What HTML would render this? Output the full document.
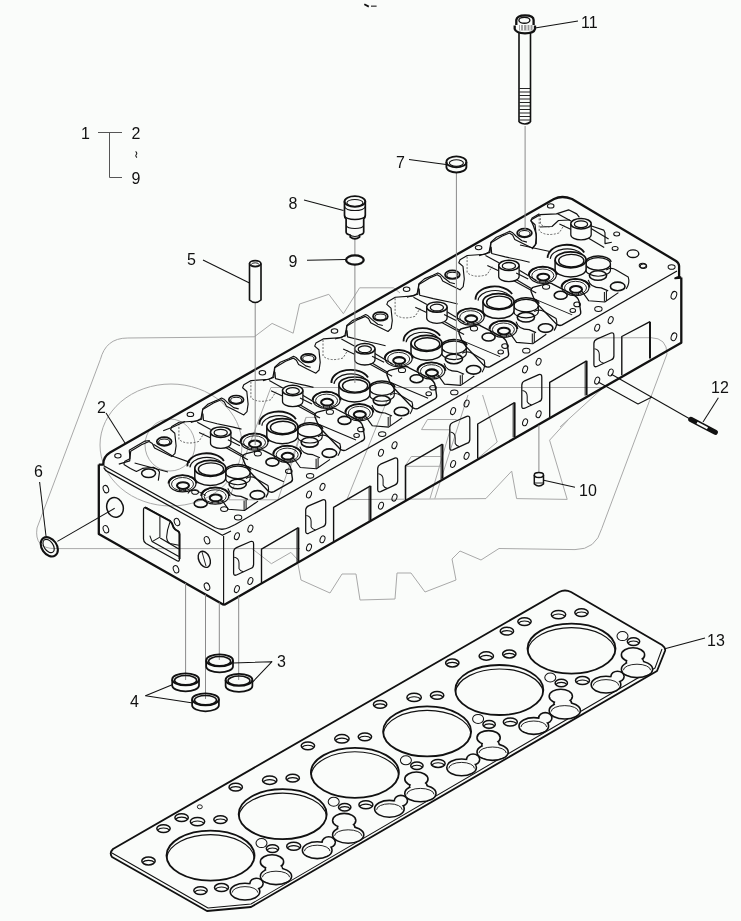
<!DOCTYPE html>
<html><head><meta charset="utf-8"><style>
html,body{margin:0;padding:0;background:#fafcfa;}
svg{display:block;font-family:"Liberation Sans",sans-serif;}
.t{will-change:transform;}
text{fill:#111;}
</style></head><body>
<svg class="t" width="741" height="921" viewBox="0 0 741 921">
<rect width="741" height="921" fill="#fafcfa"/>
<path d="M 127.8,338 L 254.3,336.8 L 272.1,323.4 L 293.2,333.2 L 299.6,304 L 328.8,294.3 L 343.4,313.7 L 359.6,287.8 L 393.6,287.8 L 400,293" stroke="#a9a9a9" stroke-width="1.0" fill="none" stroke-linejoin="round"/>
<path d="M 127.8,338 C 112,338 104,346 100.4,359.4 L 37,528 Q 34,548.6 55,548.6 L 300,548.6" stroke="#a9a9a9" stroke-width="1.0" fill="none" stroke-linejoin="round"/>
<path d="M 298,564 L 301,580 L 330,593 L 342,574 L 356,574 L 360,600 L 395,599 L 397,573 L 411,573 L 425,592 L 456,580 L 452,559 L 460,551 L 481,560 L 499,548.5 L 575,549.6 Q 596,549.6 601.7,528.7 L 667,354 Q 667,338 651,337.7 L 560,338" stroke="#a9a9a9" stroke-width="1.0" fill="none" stroke-linejoin="round"/>
<ellipse cx="171.0" cy="445.0" rx="71.0" ry="61.0" stroke="#a9a9a9" stroke-width="1.0" fill="none"/>
<ellipse cx="170.0" cy="445.0" rx="25.0" ry="26.0" stroke="#a9a9a9" stroke-width="1.0" fill="none"/>
<polyline points="270.9,387.5 602.0,387.5" stroke="#a9a9a9" stroke-width="1.0" fill="none" stroke-linejoin="round"/>
<polyline points="270.9,387.5 228.8,499.8 277.9,499.8 306.0,417.4 318.2,417.4" stroke="#a9a9a9" stroke-width="1.0" fill="none" stroke-linejoin="round"/>
<polyline points="306.0,417.4 290.2,468.2" stroke="#a9a9a9" stroke-width="1.0" fill="none" stroke-linejoin="round"/>
<polyline points="392.2,387.8 346.9,499.6 486.0,498.6" stroke="#a9a9a9" stroke-width="1.0" fill="none" stroke-linejoin="round"/>
<polyline points="421.5,429.6 427.5,419.5 456.7,419.5" stroke="#a9a9a9" stroke-width="1.0" fill="none" stroke-linejoin="round"/>
<polyline points="421.5,429.6 450.2,429.8 430.0,498.6" stroke="#a9a9a9" stroke-width="1.0" fill="none" stroke-linejoin="round"/>
<polyline points="404.9,498.6 404.9,466.3 411.3,456.5 440.5,456.5" stroke="#a9a9a9" stroke-width="1.0" fill="none" stroke-linejoin="round"/>
<polyline points="404.9,466.3 440.5,466.3" stroke="#a9a9a9" stroke-width="1.0" fill="none" stroke-linejoin="round"/>
<polyline points="485.8,498.6 511.7,471.1 516.6,498.6 567.2,499.4 549.6,440.2 568.0,420.0" stroke="#a9a9a9" stroke-width="1.0" fill="none" stroke-linejoin="round"/>
<polyline points="468.0,395.0 434.8,498.6" stroke="#a9a9a9" stroke-width="1.0" fill="none" stroke-linejoin="round"/>
<polyline points="482.6,395.0 497.2,442.0 476.0,460.0" stroke="#a9a9a9" stroke-width="1.0" fill="none" stroke-linejoin="round"/>
<polyline points="560.0,427.0 601.7,389.0" stroke="#a9a9a9" stroke-width="1.0" fill="none" stroke-linejoin="round"/>
<polyline points="271.4,563.7 290.9,552.4 298.0,560.0" stroke="#a9a9a9" stroke-width="1.0" fill="none" stroke-linejoin="round"/>
<polyline points="252.0,548.6 271.4,563.7" stroke="#a9a9a9" stroke-width="1.0" fill="none" stroke-linejoin="round"/>
<path d="M 98.8,464.6 L 103.3,464.6 Q 103,457 110,452.5 L 554,199 Q 562,195 572,199 L 676,261 Q 679,263 679.1,266 L 679.1,276.7 L 675.4,278.2 L 681.3,277.5" stroke="#111" stroke-width="2.3" fill="none" stroke-linejoin="round"/>
<polyline points="98.8,464.6 98.8,534.0 224.0,605.0" stroke="#111" stroke-width="2.3" fill="none" stroke-linejoin="round"/>
<polyline points="224.0,605.0 681.3,342.8 681.3,277.5" stroke="#111" stroke-width="2.3" fill="none" stroke-linejoin="round"/>
<polyline points="223.6,536.0 223.6,605.0" stroke="#111" stroke-width="1.15" fill="none" stroke-linejoin="round"/>
<path d="M 103.7,465.8 L 215,527.5 Q 222,531 229,527.5 L 235.3,524.5 L 677,271" stroke="#111" stroke-width="1.26" fill="none" stroke-linejoin="round"/>
<path d="M 103.7,467.4 Q 105,470.5 108.1,471.9 L 222.4,535.3 L 231,531" stroke="#111" stroke-width="1.26" fill="none" stroke-linejoin="round"/>
<ellipse cx="115.0" cy="507.4" rx="8.2" ry="10.0" stroke="#111" stroke-width="1.49" fill="none" transform="rotate(-15 115.0 507.4)"/>
<ellipse cx="105.9" cy="489.1" rx="2.6" ry="3.8" stroke="#111" stroke-width="1.03" fill="none" transform="rotate(-20 105.9 489.1)"/>
<ellipse cx="105.9" cy="529.2" rx="2.6" ry="3.8" stroke="#111" stroke-width="1.03" fill="none" transform="rotate(-20 105.9 529.2)"/>
<ellipse cx="177.0" cy="522.0" rx="2.6" ry="3.8" stroke="#111" stroke-width="1.03" fill="none" transform="rotate(-20 177.0 522.0)"/>
<ellipse cx="207.0" cy="540.2" rx="2.6" ry="3.8" stroke="#111" stroke-width="1.03" fill="none" transform="rotate(-20 207.0 540.2)"/>
<ellipse cx="176.0" cy="569.3" rx="2.6" ry="3.8" stroke="#111" stroke-width="1.03" fill="none" transform="rotate(-20 176.0 569.3)"/>
<ellipse cx="207.0" cy="586.6" rx="2.6" ry="3.8" stroke="#111" stroke-width="1.03" fill="none" transform="rotate(-20 207.0 586.6)"/>
<ellipse cx="204.3" cy="559.3" rx="5.5" ry="8.5" stroke="#111" stroke-width="1.38" fill="none" transform="rotate(-25 204.3 559.3)"/>
<polyline points="202.0,552.0 206.0,566.0" stroke="#111" stroke-width="0.92" fill="none" stroke-linejoin="round"/>
<path d="M 143.5,510 Q 143.5,507 146,507.6 L 169.9,520.8 Q 172,522.5 173.6,527.5 Q 175,530 178,531.2 Q 179.5,532 179.5,534 L 179.5,559 Q 179.5,561.5 177.5,561 L 146,543.5 Q 143.5,542 143.5,539 Z" stroke="#111" stroke-width="1.26" fill="none" stroke-linejoin="round"/>
<path d="M 145,507.4 L 169.9,520.8 Q 172,522.5 173.6,527.5 Q 175,530 178,531.2 Q 179.5,532 179.5,534 L 179.5,559" stroke="#111" stroke-width="1.95" fill="none" stroke-linejoin="round"/>
<polyline points="159.9,516.3 159.9,537.1 152.1,541.6 149.8,535.6" stroke="#111" stroke-width="1.03" fill="none" stroke-linejoin="round"/>
<polyline points="152.1,541.6 178.8,556.4" stroke="#111" stroke-width="1.15" fill="none" stroke-linejoin="round"/>
<polyline points="160.2,537.9 178.8,549.0" stroke="#111" stroke-width="1.15" fill="none" stroke-linejoin="round"/>
<path d="M 169.9,522.3 Q 167,530 166.6,537.1 Q 167,542 170,543.5 L 178.8,545.3" stroke="#111" stroke-width="1.03" fill="none" stroke-linejoin="round"/>
<g transform="translate(0.0 -0.0)">
<path d="M 233.6,552 Q 233.6,549 236.5,547.6 L 250.6,541.5 Q 253.6,540.5 253.6,544 L 253.6,564.5 Q 253.6,567.5 250.6,568.5 L 236.5,575 Q 233.6,576 233.6,573 Z" stroke="#111" stroke-width="1.26" fill="none" stroke-linejoin="round"/>
<path d="M 234.2,557.2 Q 239,558 239,563 L 239,568.6 Q 240,571 243.4,571.8" stroke="#111" stroke-width="1.03" fill="none" stroke-linejoin="round"/>
<ellipse cx="250.4" cy="528.6" rx="2.3" ry="3.6" stroke="#111" stroke-width="1.03" fill="none" transform="rotate(20 250.4 528.6)"/>
<ellipse cx="236.9" cy="536.2" rx="2.3" ry="3.6" stroke="#111" stroke-width="1.03" fill="none" transform="rotate(20 236.9 536.2)"/>
<ellipse cx="250.4" cy="581.0" rx="2.3" ry="3.6" stroke="#111" stroke-width="1.03" fill="none" transform="rotate(20 250.4 581.0)"/>
<ellipse cx="236.9" cy="589.1" rx="2.3" ry="3.6" stroke="#111" stroke-width="1.03" fill="none" transform="rotate(20 236.9 589.1)"/>
<polyline points="261.5,583.7 261.5,549.1 298.4,527.6" stroke="#111" stroke-width="1.38" fill="none" stroke-linejoin="round"/>
<polyline points="298.4,527.6 298.4,562.1" stroke="#111" stroke-width="1.95" fill="none" stroke-linejoin="round"/>
<polyline points="296.9,529.0 296.9,562.5" stroke="#111" stroke-width="0.8" fill="none" stroke-linejoin="round"/>
</g>
<g transform="translate(72.1 -41.7)">
<path d="M 233.6,552 Q 233.6,549 236.5,547.6 L 250.6,541.5 Q 253.6,540.5 253.6,544 L 253.6,564.5 Q 253.6,567.5 250.6,568.5 L 236.5,575 Q 233.6,576 233.6,573 Z" stroke="#111" stroke-width="1.26" fill="none" stroke-linejoin="round"/>
<path d="M 234.2,557.2 Q 239,558 239,563 L 239,568.6 Q 240,571 243.4,571.8" stroke="#111" stroke-width="1.03" fill="none" stroke-linejoin="round"/>
<ellipse cx="250.4" cy="528.6" rx="2.3" ry="3.6" stroke="#111" stroke-width="1.03" fill="none" transform="rotate(20 250.4 528.6)"/>
<ellipse cx="236.9" cy="536.2" rx="2.3" ry="3.6" stroke="#111" stroke-width="1.03" fill="none" transform="rotate(20 236.9 536.2)"/>
<ellipse cx="250.4" cy="581.0" rx="2.3" ry="3.6" stroke="#111" stroke-width="1.03" fill="none" transform="rotate(20 250.4 581.0)"/>
<ellipse cx="236.9" cy="589.1" rx="2.3" ry="3.6" stroke="#111" stroke-width="1.03" fill="none" transform="rotate(20 236.9 589.1)"/>
<polyline points="261.5,583.7 261.5,549.1 298.4,527.6" stroke="#111" stroke-width="1.38" fill="none" stroke-linejoin="round"/>
<polyline points="298.4,527.6 298.4,562.1" stroke="#111" stroke-width="1.95" fill="none" stroke-linejoin="round"/>
<polyline points="296.9,529.0 296.9,562.5" stroke="#111" stroke-width="0.8" fill="none" stroke-linejoin="round"/>
</g>
<g transform="translate(144.1 -83.4)">
<path d="M 233.6,552 Q 233.6,549 236.5,547.6 L 250.6,541.5 Q 253.6,540.5 253.6,544 L 253.6,564.5 Q 253.6,567.5 250.6,568.5 L 236.5,575 Q 233.6,576 233.6,573 Z" stroke="#111" stroke-width="1.26" fill="none" stroke-linejoin="round"/>
<path d="M 234.2,557.2 Q 239,558 239,563 L 239,568.6 Q 240,571 243.4,571.8" stroke="#111" stroke-width="1.03" fill="none" stroke-linejoin="round"/>
<ellipse cx="250.4" cy="528.6" rx="2.3" ry="3.6" stroke="#111" stroke-width="1.03" fill="none" transform="rotate(20 250.4 528.6)"/>
<ellipse cx="236.9" cy="536.2" rx="2.3" ry="3.6" stroke="#111" stroke-width="1.03" fill="none" transform="rotate(20 236.9 536.2)"/>
<ellipse cx="250.4" cy="581.0" rx="2.3" ry="3.6" stroke="#111" stroke-width="1.03" fill="none" transform="rotate(20 250.4 581.0)"/>
<ellipse cx="236.9" cy="589.1" rx="2.3" ry="3.6" stroke="#111" stroke-width="1.03" fill="none" transform="rotate(20 236.9 589.1)"/>
<polyline points="261.5,583.7 261.5,549.1 298.4,527.6" stroke="#111" stroke-width="1.38" fill="none" stroke-linejoin="round"/>
<polyline points="298.4,527.6 298.4,562.1" stroke="#111" stroke-width="1.95" fill="none" stroke-linejoin="round"/>
<polyline points="296.9,529.0 296.9,562.5" stroke="#111" stroke-width="0.8" fill="none" stroke-linejoin="round"/>
</g>
<g transform="translate(216.2 -125.1)">
<path d="M 233.6,552 Q 233.6,549 236.5,547.6 L 250.6,541.5 Q 253.6,540.5 253.6,544 L 253.6,564.5 Q 253.6,567.5 250.6,568.5 L 236.5,575 Q 233.6,576 233.6,573 Z" stroke="#111" stroke-width="1.26" fill="none" stroke-linejoin="round"/>
<path d="M 234.2,557.2 Q 239,558 239,563 L 239,568.6 Q 240,571 243.4,571.8" stroke="#111" stroke-width="1.03" fill="none" stroke-linejoin="round"/>
<ellipse cx="250.4" cy="528.6" rx="2.3" ry="3.6" stroke="#111" stroke-width="1.03" fill="none" transform="rotate(20 250.4 528.6)"/>
<ellipse cx="236.9" cy="536.2" rx="2.3" ry="3.6" stroke="#111" stroke-width="1.03" fill="none" transform="rotate(20 236.9 536.2)"/>
<ellipse cx="250.4" cy="581.0" rx="2.3" ry="3.6" stroke="#111" stroke-width="1.03" fill="none" transform="rotate(20 250.4 581.0)"/>
<ellipse cx="236.9" cy="589.1" rx="2.3" ry="3.6" stroke="#111" stroke-width="1.03" fill="none" transform="rotate(20 236.9 589.1)"/>
<polyline points="261.5,583.7 261.5,549.1 298.4,527.6" stroke="#111" stroke-width="1.38" fill="none" stroke-linejoin="round"/>
<polyline points="298.4,527.6 298.4,562.1" stroke="#111" stroke-width="1.95" fill="none" stroke-linejoin="round"/>
<polyline points="296.9,529.0 296.9,562.5" stroke="#111" stroke-width="0.8" fill="none" stroke-linejoin="round"/>
</g>
<g transform="translate(288.2 -166.8)">
<path d="M 233.6,552 Q 233.6,549 236.5,547.6 L 250.6,541.5 Q 253.6,540.5 253.6,544 L 253.6,564.5 Q 253.6,567.5 250.6,568.5 L 236.5,575 Q 233.6,576 233.6,573 Z" stroke="#111" stroke-width="1.26" fill="none" stroke-linejoin="round"/>
<path d="M 234.2,557.2 Q 239,558 239,563 L 239,568.6 Q 240,571 243.4,571.8" stroke="#111" stroke-width="1.03" fill="none" stroke-linejoin="round"/>
<ellipse cx="250.4" cy="528.6" rx="2.3" ry="3.6" stroke="#111" stroke-width="1.03" fill="none" transform="rotate(20 250.4 528.6)"/>
<ellipse cx="236.9" cy="536.2" rx="2.3" ry="3.6" stroke="#111" stroke-width="1.03" fill="none" transform="rotate(20 236.9 536.2)"/>
<ellipse cx="250.4" cy="581.0" rx="2.3" ry="3.6" stroke="#111" stroke-width="1.03" fill="none" transform="rotate(20 250.4 581.0)"/>
<ellipse cx="236.9" cy="589.1" rx="2.3" ry="3.6" stroke="#111" stroke-width="1.03" fill="none" transform="rotate(20 236.9 589.1)"/>
<polyline points="261.5,583.7 261.5,549.1 298.4,527.6" stroke="#111" stroke-width="1.38" fill="none" stroke-linejoin="round"/>
<polyline points="298.4,527.6 298.4,562.1" stroke="#111" stroke-width="1.95" fill="none" stroke-linejoin="round"/>
<polyline points="296.9,529.0 296.9,562.5" stroke="#111" stroke-width="0.8" fill="none" stroke-linejoin="round"/>
</g>
<g transform="translate(360.3 -208.5)">
<path d="M 233.6,552 Q 233.6,549 236.5,547.6 L 250.6,541.5 Q 253.6,540.5 253.6,544 L 253.6,564.5 Q 253.6,567.5 250.6,568.5 L 236.5,575 Q 233.6,576 233.6,573 Z" stroke="#111" stroke-width="1.26" fill="none" stroke-linejoin="round"/>
<path d="M 234.2,557.2 Q 239,558 239,563 L 239,568.6 Q 240,571 243.4,571.8" stroke="#111" stroke-width="1.03" fill="none" stroke-linejoin="round"/>
<ellipse cx="250.4" cy="528.6" rx="2.3" ry="3.6" stroke="#111" stroke-width="1.03" fill="none" transform="rotate(20 250.4 528.6)"/>
<ellipse cx="236.9" cy="536.2" rx="2.3" ry="3.6" stroke="#111" stroke-width="1.03" fill="none" transform="rotate(20 236.9 536.2)"/>
<ellipse cx="250.4" cy="581.0" rx="2.3" ry="3.6" stroke="#111" stroke-width="1.03" fill="none" transform="rotate(20 250.4 581.0)"/>
<ellipse cx="236.9" cy="589.1" rx="2.3" ry="3.6" stroke="#111" stroke-width="1.03" fill="none" transform="rotate(20 236.9 589.1)"/>
<polyline points="261.5,583.7 261.5,545.0 289.7,530.2" stroke="#111" stroke-width="1.38" fill="none" stroke-linejoin="round"/>
<polyline points="289.7,530.2 289.7,567.0" stroke="#111" stroke-width="1.95" fill="none" stroke-linejoin="round"/>
</g>
<g transform="translate(-144.1 83.4)">
<ellipse cx="334.5" cy="331.0" rx="3.3" ry="2.2" stroke="#111" stroke-width="1.03" fill="none"/>
<polyline points="262.9,380.7 273.8,377.5 274.8,367.8 285.6,361.3 293.2,358.1 296.4,360.2 298.6,364.5 307.2,368.9 315.9,373.2 319.1,370.0 320.2,362.4 318.9,349.8 314.7,346.1 315.9,343.1 323.2,338.9 341.4,337.6 345.0,335.2 346.2,329.2 346.8,325.5 352.3,320.6 360.8,317.0 365.7,314.6 368.1,315.8 371.8,319.4 377.8,324.2 382.8,325.5" stroke="#111" stroke-width="1.15" fill="none" stroke-linejoin="round"/>
<path d="M 323,340 L 323,356 Q 330,362 343,358 L 348,350" stroke="#444" stroke-width="0.8" fill="none" stroke-linejoin="round" stroke-dasharray="2 1.5"/>
<polyline points="347.0,330.2 347.6,336.9 361.2,340.3 377.4,343.7 385.6,345.7" stroke="#111" stroke-width="1.15" fill="none" stroke-linejoin="round"/>
<polyline points="341.4,338.9 354.8,346.2" stroke="#111" stroke-width="1.15" fill="none" stroke-linejoin="round"/>
<polyline points="343.2,349.0 356.1,355.0" stroke="#111" stroke-width="1.15" fill="none" stroke-linejoin="round"/>
<polyline points="374.0,353.0 392.4,364.0" stroke="#111" stroke-width="1.15" fill="none" stroke-linejoin="round"/>
<polyline points="372.0,363.0 388.0,372.5" stroke="#111" stroke-width="1.15" fill="none" stroke-linejoin="round"/>
<ellipse cx="308.3" cy="358.1" rx="7.4" ry="4.3" stroke="#111" stroke-width="1.72" fill="none"/>
<ellipse cx="308.3" cy="358.6" rx="5.6" ry="3.0" stroke="#111" stroke-width="1.03" fill="none"/>
<path d="M 354.6,348.8 L 354.6,359.8 A 10.2 5.2 0 0 0 375.0,359.8 L 375.0,348.8" stroke="#111" stroke-width="1.27" fill="#fafcfa" stroke-linejoin="round"/>
<ellipse cx="364.8" cy="348.8" rx="10.2" ry="5.2" stroke="#111" stroke-width="1.49" fill="#fafcfa"/>
<ellipse cx="364.8" cy="349.3" rx="6.6" ry="3.4" stroke="#111" stroke-width="1.26" fill="none"/>
<path d="M 369.2,387.5 A 13 7 0 0 1 395,387" stroke="#111" stroke-width="1.49" fill="none" stroke-linejoin="round"/>
<path d="M 369.7,389.0 L 369.7,395.0 A 12.3 6.3 0 0 0 394.3,395.0 L 394.3,389.0" stroke="#111" stroke-width="1.08" fill="#fafcfa" stroke-linejoin="round"/>
<ellipse cx="382.0" cy="389.0" rx="12.3" ry="6.3" stroke="#111" stroke-width="1.26" fill="#fafcfa"/>
<ellipse cx="381.8" cy="400.6" rx="8.6" ry="4.8" stroke="#111" stroke-width="1.61" fill="none"/>
<path d="M 312.6,400.2 A 14 8.5 0 0 1 340.6,400.2" stroke="#111" stroke-width="1.84" fill="none" stroke-linejoin="round"/>
<ellipse cx="326.6" cy="400.2" rx="13.5" ry="8.3" stroke="#111" stroke-width="1.15" fill="none"/>
<ellipse cx="326.6" cy="400.7" rx="11.0" ry="6.6" stroke="#111" stroke-width="0.92" fill="none"/>
<ellipse cx="327.1" cy="402.2" rx="6.0" ry="3.4" stroke="#111" stroke-width="2.07" fill="none"/>
<polyline points="323.6,405.2 323.6,408.2" stroke="#111" stroke-width="0.92" fill="none" stroke-linejoin="round"/>
<polyline points="329.6,405.2 329.6,408.2" stroke="#111" stroke-width="0.92" fill="none" stroke-linejoin="round"/>
<path d="M 345.3,412.5 A 14 8.5 0 0 1 373.3,412.5" stroke="#111" stroke-width="1.84" fill="none" stroke-linejoin="round"/>
<ellipse cx="359.3" cy="412.5" rx="13.5" ry="8.3" stroke="#111" stroke-width="1.15" fill="none"/>
<ellipse cx="359.3" cy="413.0" rx="11.0" ry="6.6" stroke="#111" stroke-width="0.92" fill="none"/>
<ellipse cx="359.8" cy="414.5" rx="6.0" ry="3.4" stroke="#111" stroke-width="2.07" fill="none"/>
<polyline points="356.3,417.5 356.3,420.5" stroke="#111" stroke-width="0.92" fill="none" stroke-linejoin="round"/>
<polyline points="362.3,417.5 362.3,420.5" stroke="#111" stroke-width="0.92" fill="none" stroke-linejoin="round"/>
<path d="M 331.5,383 A 19 12.5 0 0 1 368,377.5" stroke="#111" stroke-width="1.84" fill="none" stroke-linejoin="round"/>
<path d="M 334,384 A 17 10.5 0 0 1 366,379.5" stroke="#111" stroke-width="1.15" fill="none" stroke-linejoin="round"/>
<path d="M 338.9,385.0 L 338.9,394.0 A 15.5 8.0 0 0 0 369.9,394.0 L 369.9,385.0" stroke="#111" stroke-width="1.47" fill="#fafcfa" stroke-linejoin="round"/>
<ellipse cx="354.4" cy="385.0" rx="15.5" ry="8.0" stroke="#111" stroke-width="1.72" fill="#fafcfa"/>
<ellipse cx="355.1" cy="385.8" rx="12.6" ry="6.3" stroke="#111" stroke-width="1.38" fill="none"/>
<ellipse cx="339.2" cy="408.6" rx="3.4" ry="2.3" stroke="#111" stroke-width="1.03" fill="none"/>
<ellipse cx="344.8" cy="420.0" rx="6.5" ry="4.0" stroke="#111" stroke-width="1.61" fill="none"/>
<ellipse cx="368.3" cy="425.7" rx="3.6" ry="2.4" stroke="#111" stroke-width="1.03" fill="none"/>
<path d="M 332,410 Q 334,406 340,407 L 350,412" stroke="#111" stroke-width="1.03" fill="none" stroke-linejoin="round"/>
<ellipse cx="401.5" cy="411.5" rx="7.3" ry="4.3" stroke="#111" stroke-width="1.61" fill="none"/>
<path d="M 372,405 Q 374,413 385,413 L 392,416" stroke="#111" stroke-width="1.15" fill="none" stroke-linejoin="round"/>
<path d="M 390,395 Q 395,392 400,395 L 412,402 Q 414,408 410,414" stroke="#111" stroke-width="1.15" fill="none" stroke-linejoin="round"/>
<path d="M 365.6,416.3 L 372.4,425.8 L 388.6,427.1 L 402.2,417.7" stroke="#111" stroke-width="1.15" fill="none" stroke-linejoin="round"/>
<polyline points="388.2,417.0 388.2,426.5" stroke="#111" stroke-width="1.03" fill="none" stroke-linejoin="round"/>
<polyline points="390.2,416.0 390.2,426.0" stroke="#111" stroke-width="1.03" fill="none" stroke-linejoin="round"/>
<ellipse cx="382.2" cy="434.1" rx="3.7" ry="2.4" stroke="#111" stroke-width="1.03" fill="none"/>
</g>
<g transform="translate(-72.1 41.7)">
<ellipse cx="334.5" cy="331.0" rx="3.3" ry="2.2" stroke="#111" stroke-width="1.03" fill="none"/>
<polyline points="262.9,380.7 273.8,377.5 274.8,367.8 285.6,361.3 293.2,358.1 296.4,360.2 298.6,364.5 307.2,368.9 315.9,373.2 319.1,370.0 320.2,362.4 318.9,349.8 314.7,346.1 315.9,343.1 323.2,338.9 341.4,337.6 345.0,335.2 346.2,329.2 346.8,325.5 352.3,320.6 360.8,317.0 365.7,314.6 368.1,315.8 371.8,319.4 377.8,324.2 382.8,325.5" stroke="#111" stroke-width="1.15" fill="none" stroke-linejoin="round"/>
<path d="M 323,340 L 323,356 Q 330,362 343,358 L 348,350" stroke="#444" stroke-width="0.8" fill="none" stroke-linejoin="round" stroke-dasharray="2 1.5"/>
<polyline points="347.0,330.2 347.6,336.9 361.2,340.3 377.4,343.7 385.6,345.7" stroke="#111" stroke-width="1.15" fill="none" stroke-linejoin="round"/>
<polyline points="341.4,338.9 354.8,346.2" stroke="#111" stroke-width="1.15" fill="none" stroke-linejoin="round"/>
<polyline points="343.2,349.0 356.1,355.0" stroke="#111" stroke-width="1.15" fill="none" stroke-linejoin="round"/>
<polyline points="374.0,353.0 392.4,364.0" stroke="#111" stroke-width="1.15" fill="none" stroke-linejoin="round"/>
<polyline points="372.0,363.0 388.0,372.5" stroke="#111" stroke-width="1.15" fill="none" stroke-linejoin="round"/>
<polyline points="297.6,405.8 320.0,418.0" stroke="#111" stroke-width="1.15" fill="none" stroke-linejoin="round"/>
<polyline points="300.0,398.0 312.0,404.0" stroke="#111" stroke-width="1.15" fill="none" stroke-linejoin="round"/>
<ellipse cx="308.3" cy="358.1" rx="7.4" ry="4.3" stroke="#111" stroke-width="1.72" fill="none"/>
<ellipse cx="308.3" cy="358.6" rx="5.6" ry="3.0" stroke="#111" stroke-width="1.03" fill="none"/>
<path d="M 354.6,348.8 L 354.6,359.8 A 10.2 5.2 0 0 0 375.0,359.8 L 375.0,348.8" stroke="#111" stroke-width="1.27" fill="#fafcfa" stroke-linejoin="round"/>
<ellipse cx="364.8" cy="348.8" rx="10.2" ry="5.2" stroke="#111" stroke-width="1.49" fill="#fafcfa"/>
<ellipse cx="364.8" cy="349.3" rx="6.6" ry="3.4" stroke="#111" stroke-width="1.26" fill="none"/>
<path d="M 369.2,387.5 A 13 7 0 0 1 395,387" stroke="#111" stroke-width="1.49" fill="none" stroke-linejoin="round"/>
<path d="M 369.7,389.0 L 369.7,395.0 A 12.3 6.3 0 0 0 394.3,395.0 L 394.3,389.0" stroke="#111" stroke-width="1.08" fill="#fafcfa" stroke-linejoin="round"/>
<ellipse cx="382.0" cy="389.0" rx="12.3" ry="6.3" stroke="#111" stroke-width="1.26" fill="#fafcfa"/>
<ellipse cx="381.8" cy="400.6" rx="8.6" ry="4.8" stroke="#111" stroke-width="1.61" fill="none"/>
<path d="M 312.6,400.2 A 14 8.5 0 0 1 340.6,400.2" stroke="#111" stroke-width="1.84" fill="none" stroke-linejoin="round"/>
<ellipse cx="326.6" cy="400.2" rx="13.5" ry="8.3" stroke="#111" stroke-width="1.15" fill="none"/>
<ellipse cx="326.6" cy="400.7" rx="11.0" ry="6.6" stroke="#111" stroke-width="0.92" fill="none"/>
<ellipse cx="327.1" cy="402.2" rx="6.0" ry="3.4" stroke="#111" stroke-width="2.07" fill="none"/>
<polyline points="323.6,405.2 323.6,408.2" stroke="#111" stroke-width="0.92" fill="none" stroke-linejoin="round"/>
<polyline points="329.6,405.2 329.6,408.2" stroke="#111" stroke-width="0.92" fill="none" stroke-linejoin="round"/>
<path d="M 345.3,412.5 A 14 8.5 0 0 1 373.3,412.5" stroke="#111" stroke-width="1.84" fill="none" stroke-linejoin="round"/>
<ellipse cx="359.3" cy="412.5" rx="13.5" ry="8.3" stroke="#111" stroke-width="1.15" fill="none"/>
<ellipse cx="359.3" cy="413.0" rx="11.0" ry="6.6" stroke="#111" stroke-width="0.92" fill="none"/>
<ellipse cx="359.8" cy="414.5" rx="6.0" ry="3.4" stroke="#111" stroke-width="2.07" fill="none"/>
<polyline points="356.3,417.5 356.3,420.5" stroke="#111" stroke-width="0.92" fill="none" stroke-linejoin="round"/>
<polyline points="362.3,417.5 362.3,420.5" stroke="#111" stroke-width="0.92" fill="none" stroke-linejoin="round"/>
<path d="M 331.5,383 A 19 12.5 0 0 1 368,377.5" stroke="#111" stroke-width="1.84" fill="none" stroke-linejoin="round"/>
<path d="M 334,384 A 17 10.5 0 0 1 366,379.5" stroke="#111" stroke-width="1.15" fill="none" stroke-linejoin="round"/>
<path d="M 338.9,385.0 L 338.9,394.0 A 15.5 8.0 0 0 0 369.9,394.0 L 369.9,385.0" stroke="#111" stroke-width="1.47" fill="#fafcfa" stroke-linejoin="round"/>
<ellipse cx="354.4" cy="385.0" rx="15.5" ry="8.0" stroke="#111" stroke-width="1.72" fill="#fafcfa"/>
<ellipse cx="355.1" cy="385.8" rx="12.6" ry="6.3" stroke="#111" stroke-width="1.38" fill="none"/>
<path d="M 315,417 Q 314,413 318.4,411.9 L 333,408.2 Q 335,408 337,409.5 L 356,419.2 Q 362,422 363,427 L 364.5,437 Q 365,440 361,441.5 L 346,450 Q 343,451.5 340,449 L 322,430 Q 317,424 315,417 Z" stroke="#111" stroke-width="1.38" fill="none" stroke-linejoin="round"/>
<polyline points="318.0,424.0 356.0,440.0" stroke="#111" stroke-width="1.03" fill="none" stroke-linejoin="round"/>
<ellipse cx="329.9" cy="411.9" rx="3.6" ry="2.4" stroke="#111" stroke-width="1.03" fill="none"/>
<ellipse cx="344.5" cy="420.4" rx="6.5" ry="4.0" stroke="#111" stroke-width="1.61" fill="none"/>
<ellipse cx="360.9" cy="429.5" rx="3.3" ry="2.3" stroke="#111" stroke-width="1.03" fill="none"/>
<ellipse cx="401.5" cy="411.5" rx="7.3" ry="4.3" stroke="#111" stroke-width="1.61" fill="none"/>
<path d="M 372,405 Q 374,413 385,413 L 392,416" stroke="#111" stroke-width="1.15" fill="none" stroke-linejoin="round"/>
<path d="M 390,395 Q 395,392 400,395 L 412,402 Q 414,408 410,414" stroke="#111" stroke-width="1.15" fill="none" stroke-linejoin="round"/>
<path d="M 365.6,416.3 L 372.4,425.8 L 388.6,427.1 L 402.2,417.7" stroke="#111" stroke-width="1.15" fill="none" stroke-linejoin="round"/>
<polyline points="388.2,417.0 388.2,426.5" stroke="#111" stroke-width="1.03" fill="none" stroke-linejoin="round"/>
<polyline points="390.2,416.0 390.2,426.0" stroke="#111" stroke-width="1.03" fill="none" stroke-linejoin="round"/>
<ellipse cx="382.2" cy="434.1" rx="3.7" ry="2.4" stroke="#111" stroke-width="1.03" fill="none"/>
</g>
<g transform="translate(0.0 -0.0)">
<ellipse cx="334.5" cy="331.0" rx="3.3" ry="2.2" stroke="#111" stroke-width="1.03" fill="none"/>
<polyline points="262.9,380.7 273.8,377.5 274.8,367.8 285.6,361.3 293.2,358.1 296.4,360.2 298.6,364.5 307.2,368.9 315.9,373.2 319.1,370.0 320.2,362.4 318.9,349.8 314.7,346.1 315.9,343.1 323.2,338.9 341.4,337.6 345.0,335.2 346.2,329.2 346.8,325.5 352.3,320.6 360.8,317.0 365.7,314.6 368.1,315.8 371.8,319.4 377.8,324.2 382.8,325.5" stroke="#111" stroke-width="1.15" fill="none" stroke-linejoin="round"/>
<path d="M 323,340 L 323,356 Q 330,362 343,358 L 348,350" stroke="#444" stroke-width="0.8" fill="none" stroke-linejoin="round" stroke-dasharray="2 1.5"/>
<polyline points="347.0,330.2 347.6,336.9 361.2,340.3 377.4,343.7 385.6,345.7" stroke="#111" stroke-width="1.15" fill="none" stroke-linejoin="round"/>
<polyline points="341.4,338.9 354.8,346.2" stroke="#111" stroke-width="1.15" fill="none" stroke-linejoin="round"/>
<polyline points="343.2,349.0 356.1,355.0" stroke="#111" stroke-width="1.15" fill="none" stroke-linejoin="round"/>
<polyline points="374.0,353.0 392.4,364.0" stroke="#111" stroke-width="1.15" fill="none" stroke-linejoin="round"/>
<polyline points="372.0,363.0 388.0,372.5" stroke="#111" stroke-width="1.15" fill="none" stroke-linejoin="round"/>
<polyline points="297.6,405.8 320.0,418.0" stroke="#111" stroke-width="1.15" fill="none" stroke-linejoin="round"/>
<polyline points="300.0,398.0 312.0,404.0" stroke="#111" stroke-width="1.15" fill="none" stroke-linejoin="round"/>
<ellipse cx="308.3" cy="358.1" rx="7.4" ry="4.3" stroke="#111" stroke-width="1.72" fill="none"/>
<ellipse cx="308.3" cy="358.6" rx="5.6" ry="3.0" stroke="#111" stroke-width="1.03" fill="none"/>
<path d="M 354.6,348.8 L 354.6,359.8 A 10.2 5.2 0 0 0 375.0,359.8 L 375.0,348.8" stroke="#111" stroke-width="1.27" fill="#fafcfa" stroke-linejoin="round"/>
<ellipse cx="364.8" cy="348.8" rx="10.2" ry="5.2" stroke="#111" stroke-width="1.49" fill="#fafcfa"/>
<ellipse cx="364.8" cy="349.3" rx="6.6" ry="3.4" stroke="#111" stroke-width="1.26" fill="none"/>
<path d="M 369.2,387.5 A 13 7 0 0 1 395,387" stroke="#111" stroke-width="1.49" fill="none" stroke-linejoin="round"/>
<path d="M 369.7,389.0 L 369.7,395.0 A 12.3 6.3 0 0 0 394.3,395.0 L 394.3,389.0" stroke="#111" stroke-width="1.08" fill="#fafcfa" stroke-linejoin="round"/>
<ellipse cx="382.0" cy="389.0" rx="12.3" ry="6.3" stroke="#111" stroke-width="1.26" fill="#fafcfa"/>
<ellipse cx="381.8" cy="400.6" rx="8.6" ry="4.8" stroke="#111" stroke-width="1.61" fill="none"/>
<path d="M 312.6,400.2 A 14 8.5 0 0 1 340.6,400.2" stroke="#111" stroke-width="1.84" fill="none" stroke-linejoin="round"/>
<ellipse cx="326.6" cy="400.2" rx="13.5" ry="8.3" stroke="#111" stroke-width="1.15" fill="none"/>
<ellipse cx="326.6" cy="400.7" rx="11.0" ry="6.6" stroke="#111" stroke-width="0.92" fill="none"/>
<ellipse cx="327.1" cy="402.2" rx="6.0" ry="3.4" stroke="#111" stroke-width="2.07" fill="none"/>
<polyline points="323.6,405.2 323.6,408.2" stroke="#111" stroke-width="0.92" fill="none" stroke-linejoin="round"/>
<polyline points="329.6,405.2 329.6,408.2" stroke="#111" stroke-width="0.92" fill="none" stroke-linejoin="round"/>
<path d="M 345.3,412.5 A 14 8.5 0 0 1 373.3,412.5" stroke="#111" stroke-width="1.84" fill="none" stroke-linejoin="round"/>
<ellipse cx="359.3" cy="412.5" rx="13.5" ry="8.3" stroke="#111" stroke-width="1.15" fill="none"/>
<ellipse cx="359.3" cy="413.0" rx="11.0" ry="6.6" stroke="#111" stroke-width="0.92" fill="none"/>
<ellipse cx="359.8" cy="414.5" rx="6.0" ry="3.4" stroke="#111" stroke-width="2.07" fill="none"/>
<polyline points="356.3,417.5 356.3,420.5" stroke="#111" stroke-width="0.92" fill="none" stroke-linejoin="round"/>
<polyline points="362.3,417.5 362.3,420.5" stroke="#111" stroke-width="0.92" fill="none" stroke-linejoin="round"/>
<path d="M 331.5,383 A 19 12.5 0 0 1 368,377.5" stroke="#111" stroke-width="1.84" fill="none" stroke-linejoin="round"/>
<path d="M 334,384 A 17 10.5 0 0 1 366,379.5" stroke="#111" stroke-width="1.15" fill="none" stroke-linejoin="round"/>
<path d="M 338.9,385.0 L 338.9,394.0 A 15.5 8.0 0 0 0 369.9,394.0 L 369.9,385.0" stroke="#111" stroke-width="1.47" fill="#fafcfa" stroke-linejoin="round"/>
<ellipse cx="354.4" cy="385.0" rx="15.5" ry="8.0" stroke="#111" stroke-width="1.72" fill="#fafcfa"/>
<ellipse cx="355.1" cy="385.8" rx="12.6" ry="6.3" stroke="#111" stroke-width="1.38" fill="none"/>
<path d="M 315,417 Q 314,413 318.4,411.9 L 333,408.2 Q 335,408 337,409.5 L 356,419.2 Q 362,422 363,427 L 364.5,437 Q 365,440 361,441.5 L 346,450 Q 343,451.5 340,449 L 322,430 Q 317,424 315,417 Z" stroke="#111" stroke-width="1.38" fill="none" stroke-linejoin="round"/>
<polyline points="318.0,424.0 356.0,440.0" stroke="#111" stroke-width="1.03" fill="none" stroke-linejoin="round"/>
<ellipse cx="329.9" cy="411.9" rx="3.6" ry="2.4" stroke="#111" stroke-width="1.03" fill="none"/>
<ellipse cx="344.5" cy="420.4" rx="6.5" ry="4.0" stroke="#111" stroke-width="1.61" fill="none"/>
<ellipse cx="360.9" cy="429.5" rx="3.3" ry="2.3" stroke="#111" stroke-width="1.03" fill="none"/>
<ellipse cx="356.6" cy="435.5" rx="2.8" ry="2.0" stroke="#111" stroke-width="1.03" fill="none"/>
<ellipse cx="401.5" cy="411.5" rx="7.3" ry="4.3" stroke="#111" stroke-width="1.61" fill="none"/>
<path d="M 372,405 Q 374,413 385,413 L 392,416" stroke="#111" stroke-width="1.15" fill="none" stroke-linejoin="round"/>
<path d="M 390,395 Q 395,392 400,395 L 412,402 Q 414,408 410,414" stroke="#111" stroke-width="1.15" fill="none" stroke-linejoin="round"/>
<path d="M 365.6,416.3 L 372.4,425.8 L 388.6,427.1 L 402.2,417.7" stroke="#111" stroke-width="1.15" fill="none" stroke-linejoin="round"/>
<polyline points="388.2,417.0 388.2,426.5" stroke="#111" stroke-width="1.03" fill="none" stroke-linejoin="round"/>
<polyline points="390.2,416.0 390.2,426.0" stroke="#111" stroke-width="1.03" fill="none" stroke-linejoin="round"/>
<ellipse cx="382.2" cy="434.1" rx="3.7" ry="2.4" stroke="#111" stroke-width="1.03" fill="none"/>
</g>
<g transform="translate(72.1 -41.7)">
<ellipse cx="334.5" cy="331.0" rx="3.3" ry="2.2" stroke="#111" stroke-width="1.03" fill="none"/>
<polyline points="262.9,380.7 273.8,377.5 274.8,367.8 285.6,361.3 293.2,358.1 296.4,360.2 298.6,364.5 307.2,368.9 315.9,373.2 319.1,370.0 320.2,362.4 318.9,349.8 314.7,346.1 315.9,343.1 323.2,338.9 341.4,337.6 345.0,335.2 346.2,329.2 346.8,325.5 352.3,320.6 360.8,317.0 365.7,314.6 368.1,315.8 371.8,319.4 377.8,324.2 382.8,325.5" stroke="#111" stroke-width="1.15" fill="none" stroke-linejoin="round"/>
<path d="M 323,340 L 323,356 Q 330,362 343,358 L 348,350" stroke="#444" stroke-width="0.8" fill="none" stroke-linejoin="round" stroke-dasharray="2 1.5"/>
<polyline points="347.0,330.2 347.6,336.9 361.2,340.3 377.4,343.7 385.6,345.7" stroke="#111" stroke-width="1.15" fill="none" stroke-linejoin="round"/>
<polyline points="341.4,338.9 354.8,346.2" stroke="#111" stroke-width="1.15" fill="none" stroke-linejoin="round"/>
<polyline points="343.2,349.0 356.1,355.0" stroke="#111" stroke-width="1.15" fill="none" stroke-linejoin="round"/>
<polyline points="374.0,353.0 392.4,364.0" stroke="#111" stroke-width="1.15" fill="none" stroke-linejoin="round"/>
<polyline points="372.0,363.0 388.0,372.5" stroke="#111" stroke-width="1.15" fill="none" stroke-linejoin="round"/>
<polyline points="297.6,405.8 320.0,418.0" stroke="#111" stroke-width="1.15" fill="none" stroke-linejoin="round"/>
<polyline points="300.0,398.0 312.0,404.0" stroke="#111" stroke-width="1.15" fill="none" stroke-linejoin="round"/>
<ellipse cx="308.3" cy="358.1" rx="7.4" ry="4.3" stroke="#111" stroke-width="1.72" fill="none"/>
<ellipse cx="308.3" cy="358.6" rx="5.6" ry="3.0" stroke="#111" stroke-width="1.03" fill="none"/>
<path d="M 354.6,348.8 L 354.6,359.8 A 10.2 5.2 0 0 0 375.0,359.8 L 375.0,348.8" stroke="#111" stroke-width="1.27" fill="#fafcfa" stroke-linejoin="round"/>
<ellipse cx="364.8" cy="348.8" rx="10.2" ry="5.2" stroke="#111" stroke-width="1.49" fill="#fafcfa"/>
<ellipse cx="364.8" cy="349.3" rx="6.6" ry="3.4" stroke="#111" stroke-width="1.26" fill="none"/>
<path d="M 369.2,387.5 A 13 7 0 0 1 395,387" stroke="#111" stroke-width="1.49" fill="none" stroke-linejoin="round"/>
<path d="M 369.7,389.0 L 369.7,395.0 A 12.3 6.3 0 0 0 394.3,395.0 L 394.3,389.0" stroke="#111" stroke-width="1.08" fill="#fafcfa" stroke-linejoin="round"/>
<ellipse cx="382.0" cy="389.0" rx="12.3" ry="6.3" stroke="#111" stroke-width="1.26" fill="#fafcfa"/>
<ellipse cx="381.8" cy="400.6" rx="8.6" ry="4.8" stroke="#111" stroke-width="1.61" fill="none"/>
<path d="M 312.6,400.2 A 14 8.5 0 0 1 340.6,400.2" stroke="#111" stroke-width="1.84" fill="none" stroke-linejoin="round"/>
<ellipse cx="326.6" cy="400.2" rx="13.5" ry="8.3" stroke="#111" stroke-width="1.15" fill="none"/>
<ellipse cx="326.6" cy="400.7" rx="11.0" ry="6.6" stroke="#111" stroke-width="0.92" fill="none"/>
<ellipse cx="327.1" cy="402.2" rx="6.0" ry="3.4" stroke="#111" stroke-width="2.07" fill="none"/>
<polyline points="323.6,405.2 323.6,408.2" stroke="#111" stroke-width="0.92" fill="none" stroke-linejoin="round"/>
<polyline points="329.6,405.2 329.6,408.2" stroke="#111" stroke-width="0.92" fill="none" stroke-linejoin="round"/>
<path d="M 345.3,412.5 A 14 8.5 0 0 1 373.3,412.5" stroke="#111" stroke-width="1.84" fill="none" stroke-linejoin="round"/>
<ellipse cx="359.3" cy="412.5" rx="13.5" ry="8.3" stroke="#111" stroke-width="1.15" fill="none"/>
<ellipse cx="359.3" cy="413.0" rx="11.0" ry="6.6" stroke="#111" stroke-width="0.92" fill="none"/>
<ellipse cx="359.8" cy="414.5" rx="6.0" ry="3.4" stroke="#111" stroke-width="2.07" fill="none"/>
<polyline points="356.3,417.5 356.3,420.5" stroke="#111" stroke-width="0.92" fill="none" stroke-linejoin="round"/>
<polyline points="362.3,417.5 362.3,420.5" stroke="#111" stroke-width="0.92" fill="none" stroke-linejoin="round"/>
<path d="M 331.5,383 A 19 12.5 0 0 1 368,377.5" stroke="#111" stroke-width="1.84" fill="none" stroke-linejoin="round"/>
<path d="M 334,384 A 17 10.5 0 0 1 366,379.5" stroke="#111" stroke-width="1.15" fill="none" stroke-linejoin="round"/>
<path d="M 338.9,385.0 L 338.9,394.0 A 15.5 8.0 0 0 0 369.9,394.0 L 369.9,385.0" stroke="#111" stroke-width="1.47" fill="#fafcfa" stroke-linejoin="round"/>
<ellipse cx="354.4" cy="385.0" rx="15.5" ry="8.0" stroke="#111" stroke-width="1.72" fill="#fafcfa"/>
<ellipse cx="355.1" cy="385.8" rx="12.6" ry="6.3" stroke="#111" stroke-width="1.38" fill="none"/>
<path d="M 315,417 Q 314,413 318.4,411.9 L 333,408.2 Q 335,408 337,409.5 L 356,419.2 Q 362,422 363,427 L 364.5,437 Q 365,440 361,441.5 L 346,450 Q 343,451.5 340,449 L 322,430 Q 317,424 315,417 Z" stroke="#111" stroke-width="1.38" fill="none" stroke-linejoin="round"/>
<polyline points="318.0,424.0 356.0,440.0" stroke="#111" stroke-width="1.03" fill="none" stroke-linejoin="round"/>
<ellipse cx="329.9" cy="411.9" rx="3.6" ry="2.4" stroke="#111" stroke-width="1.03" fill="none"/>
<ellipse cx="344.5" cy="420.4" rx="6.5" ry="4.0" stroke="#111" stroke-width="1.61" fill="none"/>
<ellipse cx="360.9" cy="429.5" rx="3.3" ry="2.3" stroke="#111" stroke-width="1.03" fill="none"/>
<ellipse cx="356.6" cy="435.5" rx="2.8" ry="2.0" stroke="#111" stroke-width="1.03" fill="none"/>
<ellipse cx="401.5" cy="411.5" rx="7.3" ry="4.3" stroke="#111" stroke-width="1.61" fill="none"/>
<path d="M 372,405 Q 374,413 385,413 L 392,416" stroke="#111" stroke-width="1.15" fill="none" stroke-linejoin="round"/>
<path d="M 390,395 Q 395,392 400,395 L 412,402 Q 414,408 410,414" stroke="#111" stroke-width="1.15" fill="none" stroke-linejoin="round"/>
<path d="M 365.6,416.3 L 372.4,425.8 L 388.6,427.1 L 402.2,417.7" stroke="#111" stroke-width="1.15" fill="none" stroke-linejoin="round"/>
<polyline points="388.2,417.0 388.2,426.5" stroke="#111" stroke-width="1.03" fill="none" stroke-linejoin="round"/>
<polyline points="390.2,416.0 390.2,426.0" stroke="#111" stroke-width="1.03" fill="none" stroke-linejoin="round"/>
<ellipse cx="382.2" cy="434.1" rx="3.7" ry="2.4" stroke="#111" stroke-width="1.03" fill="none"/>
</g>
<g transform="translate(144.1 -83.4)">
<ellipse cx="334.5" cy="331.0" rx="3.3" ry="2.2" stroke="#111" stroke-width="1.03" fill="none"/>
<polyline points="262.9,380.7 273.8,377.5 274.8,367.8 285.6,361.3 293.2,358.1 296.4,360.2 298.6,364.5 307.2,368.9 315.9,373.2 319.1,370.0 320.2,362.4 318.9,349.8 314.7,346.1 315.9,343.1 323.2,338.9 341.4,337.6 345.0,335.2 346.2,329.2 346.8,325.5 352.3,320.6 360.8,317.0 365.7,314.6 368.1,315.8 371.8,319.4 377.8,324.2 382.8,325.5" stroke="#111" stroke-width="1.15" fill="none" stroke-linejoin="round"/>
<path d="M 323,340 L 323,356 Q 330,362 343,358 L 348,350" stroke="#444" stroke-width="0.8" fill="none" stroke-linejoin="round" stroke-dasharray="2 1.5"/>
<polyline points="347.0,330.2 347.6,336.9 361.2,340.3 377.4,343.7 385.6,345.7" stroke="#111" stroke-width="1.15" fill="none" stroke-linejoin="round"/>
<polyline points="341.4,338.9 354.8,346.2" stroke="#111" stroke-width="1.15" fill="none" stroke-linejoin="round"/>
<polyline points="343.2,349.0 356.1,355.0" stroke="#111" stroke-width="1.15" fill="none" stroke-linejoin="round"/>
<polyline points="374.0,353.0 392.4,364.0" stroke="#111" stroke-width="1.15" fill="none" stroke-linejoin="round"/>
<polyline points="372.0,363.0 388.0,372.5" stroke="#111" stroke-width="1.15" fill="none" stroke-linejoin="round"/>
<polyline points="297.6,405.8 320.0,418.0" stroke="#111" stroke-width="1.15" fill="none" stroke-linejoin="round"/>
<polyline points="300.0,398.0 312.0,404.0" stroke="#111" stroke-width="1.15" fill="none" stroke-linejoin="round"/>
<ellipse cx="308.3" cy="358.1" rx="7.4" ry="4.3" stroke="#111" stroke-width="1.72" fill="none"/>
<ellipse cx="308.3" cy="358.6" rx="5.6" ry="3.0" stroke="#111" stroke-width="1.03" fill="none"/>
<path d="M 354.6,348.8 L 354.6,359.8 A 10.2 5.2 0 0 0 375.0,359.8 L 375.0,348.8" stroke="#111" stroke-width="1.27" fill="#fafcfa" stroke-linejoin="round"/>
<ellipse cx="364.8" cy="348.8" rx="10.2" ry="5.2" stroke="#111" stroke-width="1.49" fill="#fafcfa"/>
<ellipse cx="364.8" cy="349.3" rx="6.6" ry="3.4" stroke="#111" stroke-width="1.26" fill="none"/>
<path d="M 369.2,387.5 A 13 7 0 0 1 395,387" stroke="#111" stroke-width="1.49" fill="none" stroke-linejoin="round"/>
<path d="M 369.7,389.0 L 369.7,395.0 A 12.3 6.3 0 0 0 394.3,395.0 L 394.3,389.0" stroke="#111" stroke-width="1.08" fill="#fafcfa" stroke-linejoin="round"/>
<ellipse cx="382.0" cy="389.0" rx="12.3" ry="6.3" stroke="#111" stroke-width="1.26" fill="#fafcfa"/>
<ellipse cx="381.8" cy="400.6" rx="8.6" ry="4.8" stroke="#111" stroke-width="1.61" fill="none"/>
<path d="M 312.6,400.2 A 14 8.5 0 0 1 340.6,400.2" stroke="#111" stroke-width="1.84" fill="none" stroke-linejoin="round"/>
<ellipse cx="326.6" cy="400.2" rx="13.5" ry="8.3" stroke="#111" stroke-width="1.15" fill="none"/>
<ellipse cx="326.6" cy="400.7" rx="11.0" ry="6.6" stroke="#111" stroke-width="0.92" fill="none"/>
<ellipse cx="327.1" cy="402.2" rx="6.0" ry="3.4" stroke="#111" stroke-width="2.07" fill="none"/>
<polyline points="323.6,405.2 323.6,408.2" stroke="#111" stroke-width="0.92" fill="none" stroke-linejoin="round"/>
<polyline points="329.6,405.2 329.6,408.2" stroke="#111" stroke-width="0.92" fill="none" stroke-linejoin="round"/>
<path d="M 345.3,412.5 A 14 8.5 0 0 1 373.3,412.5" stroke="#111" stroke-width="1.84" fill="none" stroke-linejoin="round"/>
<ellipse cx="359.3" cy="412.5" rx="13.5" ry="8.3" stroke="#111" stroke-width="1.15" fill="none"/>
<ellipse cx="359.3" cy="413.0" rx="11.0" ry="6.6" stroke="#111" stroke-width="0.92" fill="none"/>
<ellipse cx="359.8" cy="414.5" rx="6.0" ry="3.4" stroke="#111" stroke-width="2.07" fill="none"/>
<polyline points="356.3,417.5 356.3,420.5" stroke="#111" stroke-width="0.92" fill="none" stroke-linejoin="round"/>
<polyline points="362.3,417.5 362.3,420.5" stroke="#111" stroke-width="0.92" fill="none" stroke-linejoin="round"/>
<path d="M 331.5,383 A 19 12.5 0 0 1 368,377.5" stroke="#111" stroke-width="1.84" fill="none" stroke-linejoin="round"/>
<path d="M 334,384 A 17 10.5 0 0 1 366,379.5" stroke="#111" stroke-width="1.15" fill="none" stroke-linejoin="round"/>
<path d="M 338.9,385.0 L 338.9,394.0 A 15.5 8.0 0 0 0 369.9,394.0 L 369.9,385.0" stroke="#111" stroke-width="1.47" fill="#fafcfa" stroke-linejoin="round"/>
<ellipse cx="354.4" cy="385.0" rx="15.5" ry="8.0" stroke="#111" stroke-width="1.72" fill="#fafcfa"/>
<ellipse cx="355.1" cy="385.8" rx="12.6" ry="6.3" stroke="#111" stroke-width="1.38" fill="none"/>
<path d="M 315,417 Q 314,413 318.4,411.9 L 333,408.2 Q 335,408 337,409.5 L 356,419.2 Q 362,422 363,427 L 364.5,437 Q 365,440 361,441.5 L 346,450 Q 343,451.5 340,449 L 322,430 Q 317,424 315,417 Z" stroke="#111" stroke-width="1.38" fill="none" stroke-linejoin="round"/>
<polyline points="318.0,424.0 356.0,440.0" stroke="#111" stroke-width="1.03" fill="none" stroke-linejoin="round"/>
<ellipse cx="329.9" cy="411.9" rx="3.6" ry="2.4" stroke="#111" stroke-width="1.03" fill="none"/>
<ellipse cx="344.5" cy="420.4" rx="6.5" ry="4.0" stroke="#111" stroke-width="1.61" fill="none"/>
<ellipse cx="360.9" cy="429.5" rx="3.3" ry="2.3" stroke="#111" stroke-width="1.03" fill="none"/>
<ellipse cx="356.6" cy="435.5" rx="2.8" ry="2.0" stroke="#111" stroke-width="1.03" fill="none"/>
<ellipse cx="401.5" cy="411.5" rx="7.3" ry="4.3" stroke="#111" stroke-width="1.61" fill="none"/>
<path d="M 372,405 Q 374,413 385,413 L 392,416" stroke="#111" stroke-width="1.15" fill="none" stroke-linejoin="round"/>
<path d="M 390,395 Q 395,392 400,395 L 412,402 Q 414,408 410,414" stroke="#111" stroke-width="1.15" fill="none" stroke-linejoin="round"/>
<path d="M 365.6,416.3 L 372.4,425.8 L 388.6,427.1 L 402.2,417.7" stroke="#111" stroke-width="1.15" fill="none" stroke-linejoin="round"/>
<polyline points="388.2,417.0 388.2,426.5" stroke="#111" stroke-width="1.03" fill="none" stroke-linejoin="round"/>
<polyline points="390.2,416.0 390.2,426.0" stroke="#111" stroke-width="1.03" fill="none" stroke-linejoin="round"/>
<ellipse cx="382.2" cy="434.1" rx="3.7" ry="2.4" stroke="#111" stroke-width="1.03" fill="none"/>
</g>
<g transform="translate(216.2 -125.1)">
<ellipse cx="334.5" cy="331.0" rx="3.3" ry="2.2" stroke="#111" stroke-width="1.03" fill="none"/>
<polyline points="262.9,380.7 273.8,377.5 274.8,367.8 285.6,361.3 293.2,358.1 296.4,360.2 298.6,364.5 307.2,368.9 315.9,373.2 319.1,370.0 320.2,362.4 318.9,349.8 314.7,346.1 315.9,343.1 323.2,338.9" stroke="#111" stroke-width="1.15" fill="none" stroke-linejoin="round"/>
<path d="M 323,340 L 323,356 Q 330,362 343,358 L 348,350" stroke="#444" stroke-width="0.8" fill="none" stroke-linejoin="round" stroke-dasharray="2 1.5"/>
<polyline points="341.4,338.9 354.8,346.2" stroke="#111" stroke-width="1.15" fill="none" stroke-linejoin="round"/>
<polyline points="343.2,349.0 356.1,355.0" stroke="#111" stroke-width="1.15" fill="none" stroke-linejoin="round"/>
<polyline points="374.0,353.0 392.4,364.0" stroke="#111" stroke-width="1.15" fill="none" stroke-linejoin="round"/>
<polyline points="372.0,363.0 388.0,372.5" stroke="#111" stroke-width="1.15" fill="none" stroke-linejoin="round"/>
<polyline points="297.6,405.8 320.0,418.0" stroke="#111" stroke-width="1.15" fill="none" stroke-linejoin="round"/>
<polyline points="300.0,398.0 312.0,404.0" stroke="#111" stroke-width="1.15" fill="none" stroke-linejoin="round"/>
<ellipse cx="308.3" cy="358.1" rx="7.4" ry="4.3" stroke="#111" stroke-width="1.72" fill="none"/>
<ellipse cx="308.3" cy="358.6" rx="5.6" ry="3.0" stroke="#111" stroke-width="1.03" fill="none"/>
<path d="M 354.6,348.8 L 354.6,359.8 A 10.2 5.2 0 0 0 375.0,359.8 L 375.0,348.8" stroke="#111" stroke-width="1.27" fill="#fafcfa" stroke-linejoin="round"/>
<ellipse cx="364.8" cy="348.8" rx="10.2" ry="5.2" stroke="#111" stroke-width="1.49" fill="#fafcfa"/>
<ellipse cx="364.8" cy="349.3" rx="6.6" ry="3.4" stroke="#111" stroke-width="1.26" fill="none"/>
<path d="M 369.2,387.5 A 13 7 0 0 1 395,387" stroke="#111" stroke-width="1.49" fill="none" stroke-linejoin="round"/>
<path d="M 369.7,389.0 L 369.7,395.0 A 12.3 6.3 0 0 0 394.3,395.0 L 394.3,389.0" stroke="#111" stroke-width="1.08" fill="#fafcfa" stroke-linejoin="round"/>
<ellipse cx="382.0" cy="389.0" rx="12.3" ry="6.3" stroke="#111" stroke-width="1.26" fill="#fafcfa"/>
<ellipse cx="381.8" cy="400.6" rx="8.6" ry="4.8" stroke="#111" stroke-width="1.61" fill="none"/>
<path d="M 312.6,400.2 A 14 8.5 0 0 1 340.6,400.2" stroke="#111" stroke-width="1.84" fill="none" stroke-linejoin="round"/>
<ellipse cx="326.6" cy="400.2" rx="13.5" ry="8.3" stroke="#111" stroke-width="1.15" fill="none"/>
<ellipse cx="326.6" cy="400.7" rx="11.0" ry="6.6" stroke="#111" stroke-width="0.92" fill="none"/>
<ellipse cx="327.1" cy="402.2" rx="6.0" ry="3.4" stroke="#111" stroke-width="2.07" fill="none"/>
<polyline points="323.6,405.2 323.6,408.2" stroke="#111" stroke-width="0.92" fill="none" stroke-linejoin="round"/>
<polyline points="329.6,405.2 329.6,408.2" stroke="#111" stroke-width="0.92" fill="none" stroke-linejoin="round"/>
<path d="M 345.3,412.5 A 14 8.5 0 0 1 373.3,412.5" stroke="#111" stroke-width="1.84" fill="none" stroke-linejoin="round"/>
<ellipse cx="359.3" cy="412.5" rx="13.5" ry="8.3" stroke="#111" stroke-width="1.15" fill="none"/>
<ellipse cx="359.3" cy="413.0" rx="11.0" ry="6.6" stroke="#111" stroke-width="0.92" fill="none"/>
<ellipse cx="359.8" cy="414.5" rx="6.0" ry="3.4" stroke="#111" stroke-width="2.07" fill="none"/>
<polyline points="356.3,417.5 356.3,420.5" stroke="#111" stroke-width="0.92" fill="none" stroke-linejoin="round"/>
<polyline points="362.3,417.5 362.3,420.5" stroke="#111" stroke-width="0.92" fill="none" stroke-linejoin="round"/>
<path d="M 331.5,383 A 19 12.5 0 0 1 368,377.5" stroke="#111" stroke-width="1.84" fill="none" stroke-linejoin="round"/>
<path d="M 334,384 A 17 10.5 0 0 1 366,379.5" stroke="#111" stroke-width="1.15" fill="none" stroke-linejoin="round"/>
<path d="M 338.9,385.0 L 338.9,394.0 A 15.5 8.0 0 0 0 369.9,394.0 L 369.9,385.0" stroke="#111" stroke-width="1.47" fill="#fafcfa" stroke-linejoin="round"/>
<ellipse cx="354.4" cy="385.0" rx="15.5" ry="8.0" stroke="#111" stroke-width="1.72" fill="#fafcfa"/>
<ellipse cx="355.1" cy="385.8" rx="12.6" ry="6.3" stroke="#111" stroke-width="1.38" fill="none"/>
<path d="M 315,417 Q 314,413 318.4,411.9 L 333,408.2 Q 335,408 337,409.5 L 356,419.2 Q 362,422 363,427 L 364.5,437 Q 365,440 361,441.5 L 346,450 Q 343,451.5 340,449 L 322,430 Q 317,424 315,417 Z" stroke="#111" stroke-width="1.38" fill="none" stroke-linejoin="round"/>
<polyline points="318.0,424.0 356.0,440.0" stroke="#111" stroke-width="1.03" fill="none" stroke-linejoin="round"/>
<ellipse cx="329.9" cy="411.9" rx="3.6" ry="2.4" stroke="#111" stroke-width="1.03" fill="none"/>
<ellipse cx="344.5" cy="420.4" rx="6.5" ry="4.0" stroke="#111" stroke-width="1.61" fill="none"/>
<ellipse cx="360.9" cy="429.5" rx="3.3" ry="2.3" stroke="#111" stroke-width="1.03" fill="none"/>
<ellipse cx="356.6" cy="435.5" rx="2.8" ry="2.0" stroke="#111" stroke-width="1.03" fill="none"/>
<ellipse cx="401.5" cy="411.5" rx="7.3" ry="4.3" stroke="#111" stroke-width="1.61" fill="none"/>
<path d="M 372,405 Q 374,413 385,413 L 392,416" stroke="#111" stroke-width="1.15" fill="none" stroke-linejoin="round"/>
<path d="M 390,395 Q 395,392 400,395 L 412,402 Q 414,408 410,414" stroke="#111" stroke-width="1.15" fill="none" stroke-linejoin="round"/>
<path d="M 365.6,416.3 L 372.4,425.8 L 388.6,427.1 L 402.2,417.7" stroke="#111" stroke-width="1.15" fill="none" stroke-linejoin="round"/>
<polyline points="388.2,417.0 388.2,426.5" stroke="#111" stroke-width="1.03" fill="none" stroke-linejoin="round"/>
<polyline points="390.2,416.0 390.2,426.0" stroke="#111" stroke-width="1.03" fill="none" stroke-linejoin="round"/>
<ellipse cx="382.2" cy="434.1" rx="3.7" ry="2.4" stroke="#111" stroke-width="1.03" fill="none"/>
</g>
<path d="M 530.8,220 L 540.2,214.6 L 556.4,213.9 L 568.6,209.8 L 576.7,213.9 L 579.4,217.3" stroke="#111" stroke-width="1.26" fill="none" stroke-linejoin="round"/>
<path d="M 530.8,220 L 533.5,226 L 536.2,234.1 L 536.2,243.6 L 532.1,249" stroke="#111" stroke-width="1.26" fill="none" stroke-linejoin="round"/>
<path d="M 540,227 L 552,226.5 L 558.5,220.5 L 570,220" stroke="#111" stroke-width="1.15" fill="none" stroke-linejoin="round"/>
<path d="M 540.2,214.6 L 540.5,224 Q 545,228 552,226.5" stroke="#444" stroke-width="0.8" fill="none" stroke-linejoin="round" stroke-dasharray="2 1.5"/>
<path d="M 591.5,226 L 603.7,230.1 L 605,232.8 L 605,243.6 L 611.8,242.2" stroke="#111" stroke-width="1.15" fill="none" stroke-linejoin="round"/>
<polyline points="520.0,245.0 551.0,251.7" stroke="#111" stroke-width="1.15" fill="none" stroke-linejoin="round"/>
<ellipse cx="616.7" cy="233.9" rx="3.0" ry="2.0" stroke="#111" stroke-width="1.03" fill="none"/>
<ellipse cx="615.1" cy="248.4" rx="3.0" ry="2.0" stroke="#111" stroke-width="1.03" fill="none"/>
<ellipse cx="633.0" cy="253.7" rx="5.8" ry="3.8" stroke="#111" stroke-width="1.38" fill="none"/>
<ellipse cx="642.7" cy="265.6" rx="3.5" ry="2.3" stroke="#111" stroke-width="1.03" fill="none"/>
<ellipse cx="671.6" cy="267.0" rx="3.5" ry="2.3" stroke="#111" stroke-width="1.03" fill="none"/>
<ellipse cx="643.4" cy="266.3" rx="3.3" ry="2.2" stroke="#111" stroke-width="1.03" fill="none"/>
<ellipse cx="673.9" cy="295.3" rx="2.6" ry="4.0" stroke="#111" stroke-width="1.03" fill="none" transform="rotate(20 673.9 295.3)"/>
<ellipse cx="673.9" cy="336.8" rx="2.6" ry="4.0" stroke="#111" stroke-width="1.03" fill="none" transform="rotate(20 673.9 336.8)"/>
<ellipse cx="117.9" cy="455.7" rx="3.2" ry="2.2" stroke="#111" stroke-width="1.03" fill="none"/>
<path d="M 129.2,450.2 L 136.4,446 L 145,441.1 L 149.8,440.5" stroke="#111" stroke-width="1.15" fill="none" stroke-linejoin="round"/>
<path d="M 129.2,450.2 Q 130,456 129.8,458.7 L 124.9,461.2 Q 123.5,464 124.3,464.8 L 130.4,468.4 L 136.4,471.5 L 142.5,468.4 L 153.4,467.2 Q 158,469 159.5,472.1 L 158.3,480.6" stroke="#111" stroke-width="1.15" fill="none" stroke-linejoin="round"/>
<ellipse cx="148.6" cy="473.3" rx="7.0" ry="4.3" stroke="#111" stroke-width="1.49" fill="none"/>
<polyline points="134.6,463.0 168.0,472.0" stroke="#111" stroke-width="1.15" fill="none" stroke-linejoin="round"/>
<polyline points="153.4,444.2 172.9,456.3 190.0,462.4" stroke="#111" stroke-width="1.15" fill="none" stroke-linejoin="round"/>
<path d="M 163.2,430.8 L 173,427 L 185,421.6" stroke="#111" stroke-width="1.15" fill="none" stroke-linejoin="round"/>
<path d="M 113,849 L 559,592 Q 565,589 571,592 L 662,645 Q 666,648 665,651 L 657,671 L 251,907 L 207,911 L 112,857 Q 109,853 113,849 Z" stroke="#111" stroke-width="1.84" fill="none" stroke-linejoin="round"/>
<polyline points="112.0,853.0 208.0,908.0 251.0,904.0 655.0,668.0 662.0,649.0" stroke="#111" stroke-width="1.03" fill="none" stroke-linejoin="round"/>
<ellipse cx="210.5" cy="855.6" rx="44.0" ry="25.0" stroke="#111" stroke-width="1.84" fill="none"/>
<path d="M 166.64,857.6 A 44 25 0 0 1 254.36,857.6" stroke="#111" stroke-width="1.15" fill="none" stroke-linejoin="round"/>
<ellipse cx="282.7" cy="814.2" rx="44.0" ry="25.0" stroke="#111" stroke-width="1.84" fill="none"/>
<path d="M 238.84,816.2 A 44 25 0 0 1 326.56,816.2" stroke="#111" stroke-width="1.15" fill="none" stroke-linejoin="round"/>
<ellipse cx="354.9" cy="772.8" rx="44.0" ry="25.0" stroke="#111" stroke-width="1.84" fill="none"/>
<path d="M 311.04,774.8 A 44 25 0 0 1 398.76,774.8" stroke="#111" stroke-width="1.15" fill="none" stroke-linejoin="round"/>
<ellipse cx="427.1" cy="731.4" rx="44.0" ry="25.0" stroke="#111" stroke-width="1.84" fill="none"/>
<path d="M 383.24,733.4 A 44 25 0 0 1 470.96,733.4" stroke="#111" stroke-width="1.15" fill="none" stroke-linejoin="round"/>
<ellipse cx="499.3" cy="690.0" rx="44.0" ry="25.0" stroke="#111" stroke-width="1.84" fill="none"/>
<path d="M 455.44,692.0 A 44 25 0 0 1 543.16,692.0" stroke="#111" stroke-width="1.15" fill="none" stroke-linejoin="round"/>
<ellipse cx="571.5" cy="648.6" rx="44.0" ry="25.0" stroke="#111" stroke-width="1.84" fill="none"/>
<path d="M 527.64,650.6 A 44 25 0 0 1 615.36,650.6" stroke="#111" stroke-width="1.15" fill="none" stroke-linejoin="round"/>
<ellipse cx="163.5" cy="828.6" rx="6.7" ry="3.9" stroke="#111" stroke-width="1.49" fill="none"/>
<path d="M 157.44,830.26 A 6.7 3.9 0 0 1 169.56,830.26" stroke="#111" stroke-width="1.15" fill="none" stroke-linejoin="round"/>
<ellipse cx="197.5" cy="821.6" rx="7.2" ry="4.2" stroke="#111" stroke-width="1.49" fill="none"/>
<path d="M 190.98,823.38 A 7.2 4.2 0 0 1 204.02,823.38" stroke="#111" stroke-width="1.15" fill="none" stroke-linejoin="round"/>
<ellipse cx="220.5" cy="819.6" rx="6.7" ry="3.9" stroke="#111" stroke-width="1.49" fill="none"/>
<path d="M 214.44,821.26 A 6.7 3.9 0 0 1 226.56,821.26" stroke="#111" stroke-width="1.15" fill="none" stroke-linejoin="round"/>
<ellipse cx="261.5" cy="843.1" rx="5.5" ry="4.5" stroke="#111" stroke-width="1.03" fill="none"/>
<ellipse cx="272.5" cy="848.6" rx="6.2" ry="3.8" stroke="#111" stroke-width="1.49" fill="none"/>
<path d="M 266.89,850.22 A 6.2 3.8 0 0 1 278.11,850.22" stroke="#111" stroke-width="1.15" fill="none" stroke-linejoin="round"/>
<ellipse cx="221.5" cy="887.6" rx="7.0" ry="4.0" stroke="#111" stroke-width="1.49" fill="none"/>
<path d="M 215.16,889.30 A 7 4 0 0 1 227.84,889.30" stroke="#111" stroke-width="1.15" fill="none" stroke-linejoin="round"/>
<ellipse cx="245.0" cy="891.6" rx="14.0" ry="7.6" stroke="#111" stroke-width="3.22" fill="none"/>
<ellipse cx="256.5" cy="883.6" rx="5.8" ry="4.6" stroke="#111" stroke-width="3.22" fill="none"/>
<ellipse cx="252.5" cy="887.6" rx="5.0" ry="3.5" stroke="#111" stroke-width="3.22" fill="none"/>
<ellipse cx="245.0" cy="891.6" rx="14.0" ry="7.6" stroke="none" stroke-width="0" fill="#fafcfa"/>
<ellipse cx="256.5" cy="883.6" rx="5.8" ry="4.6" stroke="none" stroke-width="0" fill="#fafcfa"/>
<ellipse cx="252.5" cy="887.6" rx="5.0" ry="3.5" stroke="none" stroke-width="0" fill="#fafcfa"/>
<path d="M 232.2,892.6 A 12.8 6.0 0 0 1 257.8,892.6" stroke="#111" stroke-width="0.92" fill="none" stroke-linejoin="round"/>
<ellipse cx="272.0" cy="861.9" rx="10.8" ry="6.3" stroke="#111" stroke-width="3.22" fill="none"/>
<ellipse cx="276.0" cy="876.2" rx="14.8" ry="7.6" stroke="#111" stroke-width="3.22" fill="none"/>
<ellipse cx="274.0" cy="869.1" rx="8.0" ry="5.0" stroke="#111" stroke-width="3.22" fill="none"/>
<ellipse cx="272.0" cy="861.9" rx="10.8" ry="6.3" stroke="none" stroke-width="0" fill="#fafcfa"/>
<ellipse cx="276.0" cy="876.2" rx="14.8" ry="7.6" stroke="none" stroke-width="0" fill="#fafcfa"/>
<ellipse cx="274.0" cy="869.1" rx="8.0" ry="5.0" stroke="none" stroke-width="0" fill="#fafcfa"/>
<path d="M 262.4,877.2 A 13.6 6.0 0 0 1 289.6,877.2" stroke="#111" stroke-width="0.92" fill="none" stroke-linejoin="round"/>
<ellipse cx="235.7" cy="787.2" rx="6.7" ry="3.9" stroke="#111" stroke-width="1.49" fill="none"/>
<path d="M 229.64,788.86 A 6.7 3.9 0 0 1 241.76,788.86" stroke="#111" stroke-width="1.15" fill="none" stroke-linejoin="round"/>
<ellipse cx="269.7" cy="780.2" rx="7.2" ry="4.2" stroke="#111" stroke-width="1.49" fill="none"/>
<path d="M 263.18,781.99 A 7.2 4.2 0 0 1 276.22,781.99" stroke="#111" stroke-width="1.15" fill="none" stroke-linejoin="round"/>
<ellipse cx="292.7" cy="778.2" rx="6.7" ry="3.9" stroke="#111" stroke-width="1.49" fill="none"/>
<path d="M 286.64,779.86 A 6.7 3.9 0 0 1 298.76,779.86" stroke="#111" stroke-width="1.15" fill="none" stroke-linejoin="round"/>
<ellipse cx="333.7" cy="801.7" rx="5.5" ry="4.5" stroke="#111" stroke-width="1.03" fill="none"/>
<ellipse cx="344.7" cy="807.2" rx="6.2" ry="3.8" stroke="#111" stroke-width="1.49" fill="none"/>
<path d="M 339.09,808.82 A 6.2 3.8 0 0 1 350.31,808.82" stroke="#111" stroke-width="1.15" fill="none" stroke-linejoin="round"/>
<ellipse cx="293.7" cy="846.2" rx="7.0" ry="4.0" stroke="#111" stroke-width="1.49" fill="none"/>
<path d="M 287.36,847.90 A 7 4 0 0 1 300.04,847.90" stroke="#111" stroke-width="1.15" fill="none" stroke-linejoin="round"/>
<ellipse cx="317.2" cy="850.2" rx="14.0" ry="7.6" stroke="#111" stroke-width="3.22" fill="none"/>
<ellipse cx="328.7" cy="842.2" rx="5.8" ry="4.6" stroke="#111" stroke-width="3.22" fill="none"/>
<ellipse cx="324.7" cy="846.2" rx="5.0" ry="3.5" stroke="#111" stroke-width="3.22" fill="none"/>
<ellipse cx="317.2" cy="850.2" rx="14.0" ry="7.6" stroke="none" stroke-width="0" fill="#fafcfa"/>
<ellipse cx="328.7" cy="842.2" rx="5.8" ry="4.6" stroke="none" stroke-width="0" fill="#fafcfa"/>
<ellipse cx="324.7" cy="846.2" rx="5.0" ry="3.5" stroke="none" stroke-width="0" fill="#fafcfa"/>
<path d="M 304.4,851.2 A 12.8 6.0 0 0 1 330.0,851.2" stroke="#111" stroke-width="0.92" fill="none" stroke-linejoin="round"/>
<ellipse cx="344.2" cy="820.5" rx="10.8" ry="6.3" stroke="#111" stroke-width="3.22" fill="none"/>
<ellipse cx="348.2" cy="834.8" rx="14.8" ry="7.6" stroke="#111" stroke-width="3.22" fill="none"/>
<ellipse cx="346.2" cy="827.7" rx="8.0" ry="5.0" stroke="#111" stroke-width="3.22" fill="none"/>
<ellipse cx="344.2" cy="820.5" rx="10.8" ry="6.3" stroke="none" stroke-width="0" fill="#fafcfa"/>
<ellipse cx="348.2" cy="834.8" rx="14.8" ry="7.6" stroke="none" stroke-width="0" fill="#fafcfa"/>
<ellipse cx="346.2" cy="827.7" rx="8.0" ry="5.0" stroke="none" stroke-width="0" fill="#fafcfa"/>
<path d="M 334.6,835.8 A 13.6 6.0 0 0 1 361.8,835.8" stroke="#111" stroke-width="0.92" fill="none" stroke-linejoin="round"/>
<ellipse cx="307.9" cy="745.8" rx="6.7" ry="3.9" stroke="#111" stroke-width="1.49" fill="none"/>
<path d="M 301.84,747.46 A 6.7 3.9 0 0 1 313.96,747.46" stroke="#111" stroke-width="1.15" fill="none" stroke-linejoin="round"/>
<ellipse cx="341.9" cy="738.8" rx="7.2" ry="4.2" stroke="#111" stroke-width="1.49" fill="none"/>
<path d="M 335.38,740.59 A 7.2 4.2 0 0 1 348.42,740.59" stroke="#111" stroke-width="1.15" fill="none" stroke-linejoin="round"/>
<ellipse cx="364.9" cy="736.8" rx="6.7" ry="3.9" stroke="#111" stroke-width="1.49" fill="none"/>
<path d="M 358.84,738.46 A 6.7 3.9 0 0 1 370.96,738.46" stroke="#111" stroke-width="1.15" fill="none" stroke-linejoin="round"/>
<ellipse cx="405.9" cy="760.3" rx="5.5" ry="4.5" stroke="#111" stroke-width="1.03" fill="none"/>
<ellipse cx="416.9" cy="765.8" rx="6.2" ry="3.8" stroke="#111" stroke-width="1.49" fill="none"/>
<path d="M 411.29,767.42 A 6.2 3.8 0 0 1 422.51,767.42" stroke="#111" stroke-width="1.15" fill="none" stroke-linejoin="round"/>
<ellipse cx="365.9" cy="804.8" rx="7.0" ry="4.0" stroke="#111" stroke-width="1.49" fill="none"/>
<path d="M 359.56,806.50 A 7 4 0 0 1 372.24,806.50" stroke="#111" stroke-width="1.15" fill="none" stroke-linejoin="round"/>
<ellipse cx="389.4" cy="808.8" rx="14.0" ry="7.6" stroke="#111" stroke-width="3.22" fill="none"/>
<ellipse cx="400.9" cy="800.8" rx="5.8" ry="4.6" stroke="#111" stroke-width="3.22" fill="none"/>
<ellipse cx="396.9" cy="804.8" rx="5.0" ry="3.5" stroke="#111" stroke-width="3.22" fill="none"/>
<ellipse cx="389.4" cy="808.8" rx="14.0" ry="7.6" stroke="none" stroke-width="0" fill="#fafcfa"/>
<ellipse cx="400.9" cy="800.8" rx="5.8" ry="4.6" stroke="none" stroke-width="0" fill="#fafcfa"/>
<ellipse cx="396.9" cy="804.8" rx="5.0" ry="3.5" stroke="none" stroke-width="0" fill="#fafcfa"/>
<path d="M 376.6,809.8 A 12.8 6.0 0 0 1 402.2,809.8" stroke="#111" stroke-width="0.92" fill="none" stroke-linejoin="round"/>
<ellipse cx="416.4" cy="779.1" rx="10.8" ry="6.3" stroke="#111" stroke-width="3.22" fill="none"/>
<ellipse cx="420.4" cy="793.4" rx="14.8" ry="7.6" stroke="#111" stroke-width="3.22" fill="none"/>
<ellipse cx="418.4" cy="786.3" rx="8.0" ry="5.0" stroke="#111" stroke-width="3.22" fill="none"/>
<ellipse cx="416.4" cy="779.1" rx="10.8" ry="6.3" stroke="none" stroke-width="0" fill="#fafcfa"/>
<ellipse cx="420.4" cy="793.4" rx="14.8" ry="7.6" stroke="none" stroke-width="0" fill="#fafcfa"/>
<ellipse cx="418.4" cy="786.3" rx="8.0" ry="5.0" stroke="none" stroke-width="0" fill="#fafcfa"/>
<path d="M 406.8,794.4 A 13.6 6.0 0 0 1 434.0,794.4" stroke="#111" stroke-width="0.92" fill="none" stroke-linejoin="round"/>
<ellipse cx="380.1" cy="704.4" rx="6.7" ry="3.9" stroke="#111" stroke-width="1.49" fill="none"/>
<path d="M 374.04,706.06 A 6.7 3.9 0 0 1 386.16,706.06" stroke="#111" stroke-width="1.15" fill="none" stroke-linejoin="round"/>
<ellipse cx="414.1" cy="697.4" rx="7.2" ry="4.2" stroke="#111" stroke-width="1.49" fill="none"/>
<path d="M 407.58,699.19 A 7.2 4.2 0 0 1 420.62,699.19" stroke="#111" stroke-width="1.15" fill="none" stroke-linejoin="round"/>
<ellipse cx="437.1" cy="695.4" rx="6.7" ry="3.9" stroke="#111" stroke-width="1.49" fill="none"/>
<path d="M 431.04,697.06 A 6.7 3.9 0 0 1 443.16,697.06" stroke="#111" stroke-width="1.15" fill="none" stroke-linejoin="round"/>
<ellipse cx="478.1" cy="718.9" rx="5.5" ry="4.5" stroke="#111" stroke-width="1.03" fill="none"/>
<ellipse cx="489.1" cy="724.4" rx="6.2" ry="3.8" stroke="#111" stroke-width="1.49" fill="none"/>
<path d="M 483.49,726.02 A 6.2 3.8 0 0 1 494.71,726.02" stroke="#111" stroke-width="1.15" fill="none" stroke-linejoin="round"/>
<ellipse cx="438.1" cy="763.4" rx="7.0" ry="4.0" stroke="#111" stroke-width="1.49" fill="none"/>
<path d="M 431.76,765.10 A 7 4 0 0 1 444.44,765.10" stroke="#111" stroke-width="1.15" fill="none" stroke-linejoin="round"/>
<ellipse cx="461.6" cy="767.4" rx="14.0" ry="7.6" stroke="#111" stroke-width="3.22" fill="none"/>
<ellipse cx="473.1" cy="759.4" rx="5.8" ry="4.6" stroke="#111" stroke-width="3.22" fill="none"/>
<ellipse cx="469.1" cy="763.4" rx="5.0" ry="3.5" stroke="#111" stroke-width="3.22" fill="none"/>
<ellipse cx="461.6" cy="767.4" rx="14.0" ry="7.6" stroke="none" stroke-width="0" fill="#fafcfa"/>
<ellipse cx="473.1" cy="759.4" rx="5.8" ry="4.6" stroke="none" stroke-width="0" fill="#fafcfa"/>
<ellipse cx="469.1" cy="763.4" rx="5.0" ry="3.5" stroke="none" stroke-width="0" fill="#fafcfa"/>
<path d="M 448.8,768.4 A 12.8 6.0 0 0 1 474.4,768.4" stroke="#111" stroke-width="0.92" fill="none" stroke-linejoin="round"/>
<ellipse cx="488.6" cy="737.7" rx="10.8" ry="6.3" stroke="#111" stroke-width="3.22" fill="none"/>
<ellipse cx="492.6" cy="752.0" rx="14.8" ry="7.6" stroke="#111" stroke-width="3.22" fill="none"/>
<ellipse cx="490.6" cy="744.9" rx="8.0" ry="5.0" stroke="#111" stroke-width="3.22" fill="none"/>
<ellipse cx="488.6" cy="737.7" rx="10.8" ry="6.3" stroke="none" stroke-width="0" fill="#fafcfa"/>
<ellipse cx="492.6" cy="752.0" rx="14.8" ry="7.6" stroke="none" stroke-width="0" fill="#fafcfa"/>
<ellipse cx="490.6" cy="744.9" rx="8.0" ry="5.0" stroke="none" stroke-width="0" fill="#fafcfa"/>
<path d="M 479.0,753.0 A 13.6 6.0 0 0 1 506.2,753.0" stroke="#111" stroke-width="0.92" fill="none" stroke-linejoin="round"/>
<ellipse cx="452.3" cy="663.0" rx="6.7" ry="3.9" stroke="#111" stroke-width="1.49" fill="none"/>
<path d="M 446.24,664.66 A 6.7 3.9 0 0 1 458.36,664.66" stroke="#111" stroke-width="1.15" fill="none" stroke-linejoin="round"/>
<ellipse cx="486.3" cy="656.0" rx="7.2" ry="4.2" stroke="#111" stroke-width="1.49" fill="none"/>
<path d="M 479.78,657.78 A 7.2 4.2 0 0 1 492.82,657.78" stroke="#111" stroke-width="1.15" fill="none" stroke-linejoin="round"/>
<ellipse cx="509.3" cy="654.0" rx="6.7" ry="3.9" stroke="#111" stroke-width="1.49" fill="none"/>
<path d="M 503.24,655.66 A 6.7 3.9 0 0 1 515.36,655.66" stroke="#111" stroke-width="1.15" fill="none" stroke-linejoin="round"/>
<ellipse cx="550.3" cy="677.5" rx="5.5" ry="4.5" stroke="#111" stroke-width="1.03" fill="none"/>
<ellipse cx="561.3" cy="683.0" rx="6.2" ry="3.8" stroke="#111" stroke-width="1.49" fill="none"/>
<path d="M 555.69,684.62 A 6.2 3.8 0 0 1 566.91,684.62" stroke="#111" stroke-width="1.15" fill="none" stroke-linejoin="round"/>
<ellipse cx="510.3" cy="722.0" rx="7.0" ry="4.0" stroke="#111" stroke-width="1.49" fill="none"/>
<path d="M 503.96,723.70 A 7 4 0 0 1 516.64,723.70" stroke="#111" stroke-width="1.15" fill="none" stroke-linejoin="round"/>
<ellipse cx="533.8" cy="726.0" rx="14.0" ry="7.6" stroke="#111" stroke-width="3.22" fill="none"/>
<ellipse cx="545.3" cy="718.0" rx="5.8" ry="4.6" stroke="#111" stroke-width="3.22" fill="none"/>
<ellipse cx="541.3" cy="722.0" rx="5.0" ry="3.5" stroke="#111" stroke-width="3.22" fill="none"/>
<ellipse cx="533.8" cy="726.0" rx="14.0" ry="7.6" stroke="none" stroke-width="0" fill="#fafcfa"/>
<ellipse cx="545.3" cy="718.0" rx="5.8" ry="4.6" stroke="none" stroke-width="0" fill="#fafcfa"/>
<ellipse cx="541.3" cy="722.0" rx="5.0" ry="3.5" stroke="none" stroke-width="0" fill="#fafcfa"/>
<path d="M 521.0,727.0 A 12.8 6.0 0 0 1 546.6,727.0" stroke="#111" stroke-width="0.92" fill="none" stroke-linejoin="round"/>
<ellipse cx="560.8" cy="696.3" rx="10.8" ry="6.3" stroke="#111" stroke-width="3.22" fill="none"/>
<ellipse cx="564.8" cy="710.6" rx="14.8" ry="7.6" stroke="#111" stroke-width="3.22" fill="none"/>
<ellipse cx="562.8" cy="703.5" rx="8.0" ry="5.0" stroke="#111" stroke-width="3.22" fill="none"/>
<ellipse cx="560.8" cy="696.3" rx="10.8" ry="6.3" stroke="none" stroke-width="0" fill="#fafcfa"/>
<ellipse cx="564.8" cy="710.6" rx="14.8" ry="7.6" stroke="none" stroke-width="0" fill="#fafcfa"/>
<ellipse cx="562.8" cy="703.5" rx="8.0" ry="5.0" stroke="none" stroke-width="0" fill="#fafcfa"/>
<path d="M 551.2,711.6 A 13.6 6.0 0 0 1 578.4,711.6" stroke="#111" stroke-width="0.92" fill="none" stroke-linejoin="round"/>
<ellipse cx="524.5" cy="621.6" rx="6.7" ry="3.9" stroke="#111" stroke-width="1.49" fill="none"/>
<path d="M 518.44,623.26 A 6.7 3.9 0 0 1 530.56,623.26" stroke="#111" stroke-width="1.15" fill="none" stroke-linejoin="round"/>
<ellipse cx="558.5" cy="614.6" rx="7.2" ry="4.2" stroke="#111" stroke-width="1.49" fill="none"/>
<path d="M 551.98,616.38 A 7.2 4.2 0 0 1 565.02,616.38" stroke="#111" stroke-width="1.15" fill="none" stroke-linejoin="round"/>
<ellipse cx="581.5" cy="612.6" rx="6.7" ry="3.9" stroke="#111" stroke-width="1.49" fill="none"/>
<path d="M 575.44,614.26 A 6.7 3.9 0 0 1 587.56,614.26" stroke="#111" stroke-width="1.15" fill="none" stroke-linejoin="round"/>
<ellipse cx="622.5" cy="636.1" rx="5.5" ry="4.5" stroke="#111" stroke-width="1.03" fill="none"/>
<ellipse cx="633.5" cy="641.6" rx="6.2" ry="3.8" stroke="#111" stroke-width="1.49" fill="none"/>
<path d="M 627.89,643.22 A 6.2 3.8 0 0 1 639.11,643.22" stroke="#111" stroke-width="1.15" fill="none" stroke-linejoin="round"/>
<ellipse cx="582.5" cy="680.6" rx="7.0" ry="4.0" stroke="#111" stroke-width="1.49" fill="none"/>
<path d="M 576.16,682.30 A 7 4 0 0 1 588.84,682.30" stroke="#111" stroke-width="1.15" fill="none" stroke-linejoin="round"/>
<ellipse cx="606.0" cy="684.6" rx="14.0" ry="7.6" stroke="#111" stroke-width="3.22" fill="none"/>
<ellipse cx="617.5" cy="676.6" rx="5.8" ry="4.6" stroke="#111" stroke-width="3.22" fill="none"/>
<ellipse cx="613.5" cy="680.6" rx="5.0" ry="3.5" stroke="#111" stroke-width="3.22" fill="none"/>
<ellipse cx="606.0" cy="684.6" rx="14.0" ry="7.6" stroke="none" stroke-width="0" fill="#fafcfa"/>
<ellipse cx="617.5" cy="676.6" rx="5.8" ry="4.6" stroke="none" stroke-width="0" fill="#fafcfa"/>
<ellipse cx="613.5" cy="680.6" rx="5.0" ry="3.5" stroke="none" stroke-width="0" fill="#fafcfa"/>
<path d="M 593.2,685.6 A 12.8 6.0 0 0 1 618.8,685.6" stroke="#111" stroke-width="0.92" fill="none" stroke-linejoin="round"/>
<ellipse cx="633.0" cy="654.9" rx="10.8" ry="6.3" stroke="#111" stroke-width="3.22" fill="none"/>
<ellipse cx="637.0" cy="669.2" rx="14.8" ry="7.6" stroke="#111" stroke-width="3.22" fill="none"/>
<ellipse cx="635.0" cy="662.1" rx="8.0" ry="5.0" stroke="#111" stroke-width="3.22" fill="none"/>
<ellipse cx="633.0" cy="654.9" rx="10.8" ry="6.3" stroke="none" stroke-width="0" fill="#fafcfa"/>
<ellipse cx="637.0" cy="669.2" rx="14.8" ry="7.6" stroke="none" stroke-width="0" fill="#fafcfa"/>
<ellipse cx="635.0" cy="662.1" rx="8.0" ry="5.0" stroke="none" stroke-width="0" fill="#fafcfa"/>
<path d="M 623.4,670.2 A 13.6 6.0 0 0 1 650.6,670.2" stroke="#111" stroke-width="0.92" fill="none" stroke-linejoin="round"/>
<ellipse cx="200.5" cy="890.6" rx="6.7" ry="3.9" stroke="#111" stroke-width="1.49" fill="none"/>
<path d="M 194.44,892.26 A 6.7 3.9 0 0 1 206.56,892.26" stroke="#111" stroke-width="1.15" fill="none" stroke-linejoin="round"/>
<ellipse cx="148.5" cy="861.0" rx="6.7" ry="3.9" stroke="#111" stroke-width="1.49" fill="none"/>
<path d="M 142.44,862.66 A 6.7 3.9 0 0 1 154.56,862.66" stroke="#111" stroke-width="1.15" fill="none" stroke-linejoin="round"/>
<ellipse cx="181.6" cy="817.7" rx="6.7" ry="3.9" stroke="#111" stroke-width="1.49" fill="none"/>
<path d="M 175.54,819.36 A 6.7 3.9 0 0 1 187.66,819.36" stroke="#111" stroke-width="1.15" fill="none" stroke-linejoin="round"/>
<ellipse cx="199.8" cy="806.8" rx="2.5" ry="2.0" stroke="#111" stroke-width="0.92" fill="none"/>
<ellipse cx="506.9" cy="631.2" rx="6.7" ry="3.9" stroke="#111" stroke-width="1.49" fill="none"/>
<path d="M 500.84,632.86 A 6.7 3.9 0 0 1 512.96,632.86" stroke="#111" stroke-width="1.15" fill="none" stroke-linejoin="round"/>
<polyline points="525.1,126.0 525.1,230.0" stroke="#8a8a8a" stroke-width="1.0" fill="none" stroke-linejoin="round"/>
<polyline points="456.4,172.0 456.4,360.0" stroke="#8a8a8a" stroke-width="1.0" fill="none" stroke-linejoin="round"/>
<polyline points="354.9,239.0 354.9,255.0" stroke="#8a8a8a" stroke-width="1.0" fill="none" stroke-linejoin="round"/>
<polyline points="354.9,265.0 354.9,383.0" stroke="#8a8a8a" stroke-width="1.0" fill="none" stroke-linejoin="round"/>
<polyline points="255.2,303.0 255.2,445.0" stroke="#8a8a8a" stroke-width="1.0" fill="none" stroke-linejoin="round"/>
<polyline points="538.9,425.0 538.9,472.0" stroke="#8a8a8a" stroke-width="1.0" fill="none" stroke-linejoin="round"/>
<polyline points="185.6,583.0 185.6,680.0" stroke="#8a8a8a" stroke-width="1.0" fill="none" stroke-linejoin="round"/>
<polyline points="205.5,594.5 205.5,699.0" stroke="#8a8a8a" stroke-width="1.0" fill="none" stroke-linejoin="round"/>
<polyline points="219.3,602.5 219.3,660.0" stroke="#8a8a8a" stroke-width="1.0" fill="none" stroke-linejoin="round"/>
<polyline points="238.7,596.5 238.7,680.0" stroke="#8a8a8a" stroke-width="1.0" fill="none" stroke-linejoin="round"/>
<rect x="519" y="25" width="13.5" height="5.5" fill="#9a9a9a"/>
<polyline points="520.5,25.0 520.5,30.5" stroke="#fafcfa" stroke-width="1.2" fill="none" stroke-linejoin="round"/>
<polyline points="523.5,25.0 523.5,30.5" stroke="#fafcfa" stroke-width="1.2" fill="none" stroke-linejoin="round"/>
<polyline points="527.0,25.0 527.0,30.5" stroke="#fafcfa" stroke-width="1.2" fill="none" stroke-linejoin="round"/>
<polyline points="530.0,25.0 530.0,30.5" stroke="#fafcfa" stroke-width="1.2" fill="none" stroke-linejoin="round"/>
<path d="M 514.7,25.5 L 514.7,29 Q 516,33.3 525,33.3 Q 534,33.3 535,29 L 535,25.5" stroke="#111" stroke-width="2.3" fill="none" stroke-linejoin="round"/>
<path d="M 516.3,25 L 516.3,20 Q 517,15.3 525,15.3 Q 533.6,15.3 533.6,20 L 533.6,25" stroke="#111" stroke-width="2.3" fill="none" stroke-linejoin="round"/>
<ellipse cx="524.4" cy="20.3" rx="5.5" ry="3.0" stroke="#111" stroke-width="1.38" fill="none"/>
<polyline points="519.0,33.0 519.0,122.0" stroke="#111" stroke-width="1.61" fill="none" stroke-linejoin="round"/>
<polyline points="530.5,33.0 530.5,122.0" stroke="#111" stroke-width="1.61" fill="none" stroke-linejoin="round"/>
<path d="M 519,122 Q 525,126 530.5,122" stroke="#111" stroke-width="1.61" fill="none" stroke-linejoin="round"/>
<polyline points="519.5,88.5 530.0,88.5" stroke="#111" stroke-width="0.92" fill="none" stroke-linejoin="round"/>
<polyline points="519.5,92.0 530.0,92.0" stroke="#111" stroke-width="0.92" fill="none" stroke-linejoin="round"/>
<polyline points="519.5,95.5 530.0,95.5" stroke="#111" stroke-width="0.92" fill="none" stroke-linejoin="round"/>
<polyline points="519.5,99.0 530.0,99.0" stroke="#111" stroke-width="0.92" fill="none" stroke-linejoin="round"/>
<polyline points="519.5,102.5 530.0,102.5" stroke="#111" stroke-width="0.92" fill="none" stroke-linejoin="round"/>
<polyline points="519.5,106.0 530.0,106.0" stroke="#111" stroke-width="0.92" fill="none" stroke-linejoin="round"/>
<polyline points="519.5,109.5 530.0,109.5" stroke="#111" stroke-width="0.92" fill="none" stroke-linejoin="round"/>
<polyline points="519.5,113.0 530.0,113.0" stroke="#111" stroke-width="0.92" fill="none" stroke-linejoin="round"/>
<polyline points="519.5,116.5 530.0,116.5" stroke="#111" stroke-width="0.92" fill="none" stroke-linejoin="round"/>
<polyline points="519.5,120.0 530.0,120.0" stroke="#111" stroke-width="0.92" fill="none" stroke-linejoin="round"/>
<ellipse cx="456.4" cy="161.9" rx="10.0" ry="5.5" stroke="#111" stroke-width="1.84" fill="none"/>
<ellipse cx="456.4" cy="163.0" rx="7.0" ry="3.3" stroke="#111" stroke-width="1.15" fill="none"/>
<path d="M 446.4,162 L 446.4,167 A 10 5.5 0 0 0 466.4,167 L 466.4,162" stroke="#111" stroke-width="1.84" fill="none" stroke-linejoin="round"/>
<path d="M 344.5,201.2 L 344.5,215.5 Q 344.5,217.4 346.1,219 L 346.1,232 Q 346.1,234.3 350.2,235 L 350.2,237 Q 355,240.5 359.6,237 L 359.6,235 Q 363.7,234.3 363.7,232 L 363.7,219 Q 365.3,217.4 365.3,215.5 L 365.3,201.2" stroke="#111" stroke-width="1.72" fill="none" stroke-linejoin="round"/>
<ellipse cx="354.9" cy="201.5" rx="10.4" ry="5.3" stroke="#111" stroke-width="1.84" fill="none"/>
<ellipse cx="354.9" cy="202.8" rx="8.0" ry="3.4" stroke="#111" stroke-width="1.03" fill="none"/>
<path d="M 344.6,206.6 A 10.3 4 0 0 0 365.2,206.6" stroke="#111" stroke-width="1.03" fill="none" stroke-linejoin="round"/>
<path d="M 344.6,215.5 A 10.3 4 0 0 0 365.2,215.5" stroke="#111" stroke-width="1.26" fill="none" stroke-linejoin="round"/>
<path d="M 346.2,225.5 A 8.8 3.5 0 0 0 363.6,225.5" stroke="#111" stroke-width="1.03" fill="none" stroke-linejoin="round"/>
<path d="M 350.3,235 A 4.7 1.8 0 0 0 359.5,235" stroke="#111" stroke-width="1.03" fill="none" stroke-linejoin="round"/>
<ellipse cx="354.9" cy="260.0" rx="8.8" ry="4.6" stroke="#111" stroke-width="2.3" fill="none"/>
<ellipse cx="255.2" cy="263.6" rx="5.7" ry="3.0" stroke="#111" stroke-width="1.61" fill="none"/>
<ellipse cx="255.2" cy="264.6" rx="3.8" ry="1.8" stroke="#111" stroke-width="0.92" fill="none"/>
<path d="M 249.5,263.6 L 249.5,300 Q 255.2,305 261,300 L 261,263.6" stroke="#111" stroke-width="1.61" fill="none" stroke-linejoin="round"/>
<ellipse cx="538.9" cy="475.0" rx="4.6" ry="2.5" stroke="#111" stroke-width="1.49" fill="none"/>
<path d="M 534.3,475 L 534.3,484 Q 538.9,488 543.5,484 L 543.5,475" stroke="#111" stroke-width="1.49" fill="none" stroke-linejoin="round"/>
<polyline points="534.5,483.0 543.3,483.0" stroke="#111" stroke-width="0.92" fill="none" stroke-linejoin="round"/>
<line x1="690.8" y1="419.4" x2="715.3" y2="432.2" stroke="#111" stroke-width="5.2" stroke-linecap="round"/>
<line x1="697" y1="422.7" x2="707.5" y2="428.2" stroke="#fafcfa" stroke-width="2.2"/>
<ellipse cx="49.3" cy="546.8" rx="7.5" ry="10.5" stroke="#111" stroke-width="2.07" fill="none" transform="rotate(-35 49.3 546.8)"/>
<ellipse cx="48.6" cy="546.0" rx="4.5" ry="7.5" stroke="#111" stroke-width="1.15" fill="none" transform="rotate(-35 48.6 546.0)"/>
<path d="M 172.2,679.4 L 172.2,685.4 A 13.4 6 0 0 0 199.0,685.4 L 199.0,679.4" stroke="#111" stroke-width="1.72" fill="none" stroke-linejoin="round"/>
<ellipse cx="185.6" cy="679.4" rx="13.4" ry="6.0" stroke="#111" stroke-width="1.84" fill="none"/>
<ellipse cx="185.6" cy="680.2" rx="11.0" ry="4.6" stroke="#111" stroke-width="1.49" fill="none"/>
<path d="M 192.1,699.3 L 192.1,705.3 A 13.4 6 0 0 0 218.9,705.3 L 218.9,699.3" stroke="#111" stroke-width="1.72" fill="none" stroke-linejoin="round"/>
<ellipse cx="205.5" cy="699.3" rx="13.4" ry="6.0" stroke="#111" stroke-width="1.84" fill="none"/>
<ellipse cx="205.5" cy="700.1" rx="11.0" ry="4.6" stroke="#111" stroke-width="1.49" fill="none"/>
<path d="M 206.2,660.4 L 206.2,666.4 A 13.4 6 0 0 0 233.0,666.4 L 233.0,660.4" stroke="#111" stroke-width="1.72" fill="none" stroke-linejoin="round"/>
<ellipse cx="219.6" cy="660.4" rx="13.4" ry="6.0" stroke="#111" stroke-width="1.84" fill="none"/>
<ellipse cx="219.6" cy="661.2" rx="11.0" ry="4.6" stroke="#111" stroke-width="1.49" fill="none"/>
<path d="M 225.6,679.9 L 225.6,685.9 A 13.4 6 0 0 0 252.4,685.9 L 252.4,679.9" stroke="#111" stroke-width="1.72" fill="none" stroke-linejoin="round"/>
<ellipse cx="239.0" cy="679.9" rx="13.4" ry="6.0" stroke="#111" stroke-width="1.84" fill="none"/>
<ellipse cx="239.0" cy="680.7" rx="11.0" ry="4.6" stroke="#111" stroke-width="1.49" fill="none"/>
<text x="581.0" y="27.7" font-size="16">11</text>
<text x="396.0" y="167.7" font-size="16">7</text>
<text x="288.5" y="208.7" font-size="16">8</text>
<text x="288.5" y="266.7" font-size="16">9</text>
<text x="187.0" y="265.2" font-size="16">5</text>
<text x="97.0" y="412.7" font-size="16">2</text>
<text x="34.0" y="476.7" font-size="16">6</text>
<text x="277.0" y="666.7" font-size="16">3</text>
<text x="130.0" y="706.7" font-size="16">4</text>
<text x="579.0" y="495.7" font-size="16">10</text>
<text x="707.0" y="645.7" font-size="16">13</text>
<text x="711.0" y="392.7" font-size="16">12</text>
<text x="81.0" y="138.7" font-size="16">1</text>
<text x="131.5" y="138.7" font-size="16">2</text>
<text x="131.5" y="183.7" font-size="16">9</text>
<polyline points="535.0,28.0 578.0,21.0" stroke="#111" stroke-width="1.03" fill="none" stroke-linejoin="round"/>
<polyline points="409.0,159.5 446.0,164.5" stroke="#111" stroke-width="1.03" fill="none" stroke-linejoin="round"/>
<polyline points="304.0,200.0 343.5,210.5" stroke="#111" stroke-width="1.03" fill="none" stroke-linejoin="round"/>
<polyline points="307.0,260.3 346.0,259.5" stroke="#111" stroke-width="1.03" fill="none" stroke-linejoin="round"/>
<polyline points="203.0,260.0 249.5,283.0" stroke="#111" stroke-width="1.03" fill="none" stroke-linejoin="round"/>
<polyline points="106.0,413.0 125.0,443.0" stroke="#111" stroke-width="1.03" fill="none" stroke-linejoin="round"/>
<polyline points="39.6,482.0 46.0,536.0" stroke="#111" stroke-width="1.03" fill="none" stroke-linejoin="round"/>
<polyline points="57.4,541.4 114.7,508.3" stroke="#111" stroke-width="1.03" fill="none" stroke-linejoin="round"/>
<polyline points="233.0,663.0 272.0,661.7 252.4,682.3" stroke="#111" stroke-width="1.03" fill="none" stroke-linejoin="round"/>
<polyline points="172.2,684.7 145.5,695.7 192.9,703.0" stroke="#111" stroke-width="1.03" fill="none" stroke-linejoin="round"/>
<polyline points="543.7,480.2 575.0,487.2" stroke="#111" stroke-width="1.03" fill="none" stroke-linejoin="round"/>
<polyline points="664.0,649.0 705.0,638.0" stroke="#111" stroke-width="1.03" fill="none" stroke-linejoin="round"/>
<polyline points="718.4,397.7 703.0,422.0" stroke="#111" stroke-width="1.03" fill="none" stroke-linejoin="round"/>
<polyline points="611.4,374.3 690.0,419.0" stroke="#111" stroke-width="1.03" fill="none" stroke-linejoin="round"/>
<polyline points="598.2,382.0 638.0,404.0 652.0,397.0" stroke="#111" stroke-width="1.03" fill="none" stroke-linejoin="round"/>
<polyline points="98.0,132.5 122.0,132.5" stroke="#555" stroke-width="1.0" fill="none" stroke-linejoin="round"/>
<polyline points="109.5,132.5 109.5,177.5 122.0,177.5" stroke="#555" stroke-width="1.0" fill="none" stroke-linejoin="round"/>
<path d="M 135.6,151.5 Q 137.6,153 136.3,154.5 Q 135,156 137,157.5" stroke="#111" stroke-width="1.03" fill="none" stroke-linejoin="round"/>
<polyline points="364.3,4.3 368.8,6.6" stroke="#111" stroke-width="1.84" fill="none" stroke-linejoin="round"/>
<polyline points="371.0,6.2 376.6,6.2" stroke="#555" stroke-width="1.5" fill="none" stroke-linejoin="round"/>
</svg></body></html>
